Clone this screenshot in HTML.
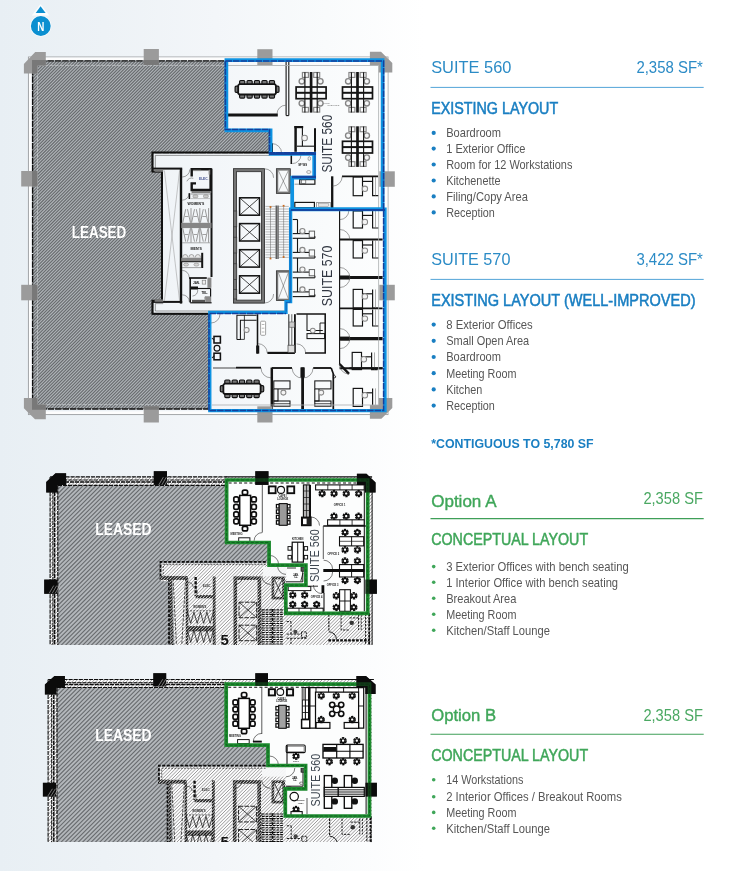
<!DOCTYPE html>
<html><head><meta charset="utf-8"><title>Suite 560 / 570 floor plans</title>
<style>
html,body{margin:0;padding:0;}
body{width:743px;height:871px;overflow:hidden;background:#fff;font-family:"Liberation Sans",sans-serif;}
svg{will-change:transform;position:absolute;left:0;top:0;display:block;font-family:"Liberation Sans",sans-serif;}
</style></head><body>
<svg width="743" height="871" viewBox="0 0 743 871">
<defs>
<linearGradient id="bg" x1="0" y1="0" x2="1" y2="0">
<stop offset="0" stop-color="#e8eff4"/><stop offset="0.14" stop-color="#edf2f6"/><stop offset="0.29" stop-color="#f3f6f9"/><stop offset="0.44" stop-color="#f9fbfc"/><stop offset="0.57" stop-color="#ffffff"/><stop offset="1" stop-color="#ffffff"/>
</linearGradient>
<pattern id="hatchL" width="2.0" height="8" patternUnits="userSpaceOnUse" patternTransform="rotate(42)">
<rect width="2.0" height="8" fill="#a9afb3"/><rect width="1.0" height="8" fill="#64676a"/>
</pattern>
<pattern id="hatchL2" width="2.5" height="8" patternUnits="userSpaceOnUse" patternTransform="rotate(45)">
<rect width="2.5" height="8" fill="#abb0b4"/><rect width="0.95" height="8" fill="#6c6f72"/>
</pattern>
<pattern id="hatchW" width="2.5" height="8" patternUnits="userSpaceOnUse" patternTransform="rotate(42)">
<rect width="2.5" height="8" fill="#f6f7f8"/><rect width="0.7" height="8" fill="#7a7a7a"/>
</pattern>
<pattern id="wallH" width="3.4" height="3.4" patternUnits="userSpaceOnUse"><rect width="3.4" height="3.4" fill="#f1f1f1"/><path d="M-1,1 L1,-1 M-0.5,3.9 L3.9,-0.5 M2.4,4.4 L4.4,2.4" stroke="#050505" stroke-width="1.5"/></pattern>
</defs>
<rect width="743" height="871" fill="url(#bg)"/>

<path d="M40.6,3.9 L49.4,15.6 L31.8,15.6 Z" fill="#fbfdfe" stroke="none" stroke-width="0" />
<circle cx="40.8" cy="26.0" r="10.6" fill="#fbfdfe" stroke="none" stroke-width="0" />
<circle cx="40.8" cy="26.0" r="9.9" fill="#0b8fd0" stroke="none" stroke-width="0" />
<path d="M40.6,6.3 L45.6,12.9 L35.7,12.9 Z" fill="#0b8fd0" stroke="none" stroke-width="0" />
<text x="37.2" y="31.1" font-size="13" fill="#fff" font-weight="bold" textLength="7.1" lengthAdjust="spacingAndGlyphs" >N</text>
<rect x="28.4" y="57.0" width="359.6" height="357.6" fill="none" stroke="#9c9ea0" stroke-width="0.9" />
<rect x="30.3" y="58.8" width="355.8" height="353.9" fill="none" stroke="#fdfdfd" stroke-width="2.6" />
<clipPath id="hc1"><path d="M32.6,60.8 L225.5,60.8 L225.5,129.7 L269.5,129.7 L269.5,152.6 L152.5,152.6 L152.5,171.6 L162.0,171.6 L162.0,300.8 L152.5,300.8 L152.5,313.7 L209.0,313.7 L209.0,409.0 L32.6,409.0 Z"/></clipPath>
<path d="M32.6,60.8 L225.5,60.8 L225.5,129.7 L269.5,129.7 L269.5,152.6 L152.5,152.6 L152.5,171.6 L162.0,171.6 L162.0,300.8 L152.5,300.8 L152.5,313.7 L209.0,313.7 L209.0,409.0 L32.6,409.0 Z" fill="#b0b5b9"/>
<path clip-path="url(#hc1)" d="M-320.75,410.0l350.2,-350.2M-317.60,410.0l350.2,-350.2M-314.45,410.0l350.2,-350.2M-311.30,410.0l350.2,-350.2M-308.15,410.0l350.2,-350.2M-305.00,410.0l350.2,-350.2M-301.85,410.0l350.2,-350.2M-298.70,410.0l350.2,-350.2M-295.55,410.0l350.2,-350.2M-292.40,410.0l350.2,-350.2M-289.25,410.0l350.2,-350.2M-286.10,410.0l350.2,-350.2M-282.95,410.0l350.2,-350.2M-279.80,410.0l350.2,-350.2M-276.65,410.0l350.2,-350.2M-273.50,410.0l350.2,-350.2M-270.35,410.0l350.2,-350.2M-267.20,410.0l350.2,-350.2M-264.05,410.0l350.2,-350.2M-260.90,410.0l350.2,-350.2M-257.75,410.0l350.2,-350.2M-254.60,410.0l350.2,-350.2M-251.45,410.0l350.2,-350.2M-248.30,410.0l350.2,-350.2M-245.15,410.0l350.2,-350.2M-242.00,410.0l350.2,-350.2M-238.85,410.0l350.2,-350.2M-235.70,410.0l350.2,-350.2M-232.55,410.0l350.2,-350.2M-229.40,410.0l350.2,-350.2M-226.25,410.0l350.2,-350.2M-223.10,410.0l350.2,-350.2M-219.95,410.0l350.2,-350.2M-216.80,410.0l350.2,-350.2M-213.65,410.0l350.2,-350.2M-210.50,410.0l350.2,-350.2M-207.35,410.0l350.2,-350.2M-204.20,410.0l350.2,-350.2M-201.05,410.0l350.2,-350.2M-197.90,410.0l350.2,-350.2M-194.75,410.0l350.2,-350.2M-191.60,410.0l350.2,-350.2M-188.45,410.0l350.2,-350.2M-185.30,410.0l350.2,-350.2M-182.15,410.0l350.2,-350.2M-179.00,410.0l350.2,-350.2M-175.85,410.0l350.2,-350.2M-172.70,410.0l350.2,-350.2M-169.55,410.0l350.2,-350.2M-166.40,410.0l350.2,-350.2M-163.25,410.0l350.2,-350.2M-160.10,410.0l350.2,-350.2M-156.95,410.0l350.2,-350.2M-153.80,410.0l350.2,-350.2M-150.65,410.0l350.2,-350.2M-147.50,410.0l350.2,-350.2M-144.35,410.0l350.2,-350.2M-141.20,410.0l350.2,-350.2M-138.05,410.0l350.2,-350.2M-134.90,410.0l350.2,-350.2M-131.75,410.0l350.2,-350.2M-128.60,410.0l350.2,-350.2M-125.45,410.0l350.2,-350.2M-122.30,410.0l350.2,-350.2M-119.15,410.0l350.2,-350.2M-116.00,410.0l350.2,-350.2M-112.85,410.0l350.2,-350.2M-109.70,410.0l350.2,-350.2M-106.55,410.0l350.2,-350.2M-103.40,410.0l350.2,-350.2M-100.25,410.0l350.2,-350.2M-97.10,410.0l350.2,-350.2M-93.95,410.0l350.2,-350.2M-90.80,410.0l350.2,-350.2M-87.65,410.0l350.2,-350.2M-84.50,410.0l350.2,-350.2M-81.35,410.0l350.2,-350.2M-78.20,410.0l350.2,-350.2M-75.05,410.0l350.2,-350.2M-71.90,410.0l350.2,-350.2M-68.75,410.0l350.2,-350.2M-65.60,410.0l350.2,-350.2M-62.45,410.0l350.2,-350.2M-59.30,410.0l350.2,-350.2M-56.15,410.0l350.2,-350.2M-53.00,410.0l350.2,-350.2M-49.85,410.0l350.2,-350.2M-46.70,410.0l350.2,-350.2M-43.55,410.0l350.2,-350.2M-40.40,410.0l350.2,-350.2M-37.25,410.0l350.2,-350.2M-34.10,410.0l350.2,-350.2M-30.95,410.0l350.2,-350.2M-27.80,410.0l350.2,-350.2M-24.65,410.0l350.2,-350.2M-21.50,410.0l350.2,-350.2M-18.35,410.0l350.2,-350.2M-15.20,410.0l350.2,-350.2M-12.05,410.0l350.2,-350.2M-8.90,410.0l350.2,-350.2M-5.75,410.0l350.2,-350.2M-2.60,410.0l350.2,-350.2M0.55,410.0l350.2,-350.2M3.70,410.0l350.2,-350.2M6.85,410.0l350.2,-350.2M10.00,410.0l350.2,-350.2M13.15,410.0l350.2,-350.2M16.30,410.0l350.2,-350.2M19.45,410.0l350.2,-350.2M22.60,410.0l350.2,-350.2M25.75,410.0l350.2,-350.2M28.90,410.0l350.2,-350.2M32.05,410.0l350.2,-350.2M35.20,410.0l350.2,-350.2M38.35,410.0l350.2,-350.2M41.50,410.0l350.2,-350.2M44.65,410.0l350.2,-350.2M47.80,410.0l350.2,-350.2M50.95,410.0l350.2,-350.2M54.10,410.0l350.2,-350.2M57.25,410.0l350.2,-350.2M60.40,410.0l350.2,-350.2M63.55,410.0l350.2,-350.2M66.70,410.0l350.2,-350.2M69.85,410.0l350.2,-350.2M73.00,410.0l350.2,-350.2M76.15,410.0l350.2,-350.2M79.30,410.0l350.2,-350.2M82.45,410.0l350.2,-350.2M85.60,410.0l350.2,-350.2M88.75,410.0l350.2,-350.2M91.90,410.0l350.2,-350.2M95.05,410.0l350.2,-350.2M98.20,410.0l350.2,-350.2M101.35,410.0l350.2,-350.2M104.50,410.0l350.2,-350.2M107.65,410.0l350.2,-350.2M110.80,410.0l350.2,-350.2M113.95,410.0l350.2,-350.2M117.10,410.0l350.2,-350.2M120.25,410.0l350.2,-350.2M123.40,410.0l350.2,-350.2M126.55,410.0l350.2,-350.2M129.70,410.0l350.2,-350.2M132.85,410.0l350.2,-350.2M136.00,410.0l350.2,-350.2M139.15,410.0l350.2,-350.2M142.30,410.0l350.2,-350.2M145.45,410.0l350.2,-350.2M148.60,410.0l350.2,-350.2M151.75,410.0l350.2,-350.2M154.90,410.0l350.2,-350.2M158.05,410.0l350.2,-350.2M161.20,410.0l350.2,-350.2M164.35,410.0l350.2,-350.2M167.50,410.0l350.2,-350.2M170.65,410.0l350.2,-350.2M173.80,410.0l350.2,-350.2M176.95,410.0l350.2,-350.2M180.10,410.0l350.2,-350.2M183.25,410.0l350.2,-350.2M186.40,410.0l350.2,-350.2M189.55,410.0l350.2,-350.2M192.70,410.0l350.2,-350.2M195.85,410.0l350.2,-350.2M199.00,410.0l350.2,-350.2M202.15,410.0l350.2,-350.2M205.30,410.0l350.2,-350.2M208.45,410.0l350.2,-350.2M211.60,410.0l350.2,-350.2M214.75,410.0l350.2,-350.2M217.90,410.0l350.2,-350.2M221.05,410.0l350.2,-350.2M224.20,410.0l350.2,-350.2M227.35,410.0l350.2,-350.2M230.50,410.0l350.2,-350.2M233.65,410.0l350.2,-350.2M236.80,410.0l350.2,-350.2M239.95,410.0l350.2,-350.2M243.10,410.0l350.2,-350.2M246.25,410.0l350.2,-350.2M249.40,410.0l350.2,-350.2M252.55,410.0l350.2,-350.2M255.70,410.0l350.2,-350.2M258.85,410.0l350.2,-350.2M262.00,410.0l350.2,-350.2M265.15,410.0l350.2,-350.2M268.30,410.0l350.2,-350.2M271.45,410.0l350.2,-350.2" stroke="#686b6e" stroke-width="1.12" fill="none"/>
<path d="M32.6,60.8 L225.5,60.8 L225.5,129.7 L269.5,129.7 L269.5,152.6 L152.5,152.6 L152.5,171.6 L162.0,171.6 L162.0,300.8 L152.5,300.8 L152.5,313.7 L209.0,313.7 L209.0,409.0 L32.6,409.0 Z" fill="none" stroke="#0f0f0f" stroke-width="1.35" stroke-dasharray="6.5 0.9"/>
<path d="M225.0,65.4 L37.5,65.4 L37.5,404.6 L208.6,404.6" fill="none" stroke="#c9cdd0" stroke-width="0.7" stroke-dasharray="4 1.2"/>
<text x="71.8" y="237.7" font-size="15.6" fill="#fff" font-weight="bold" textLength="54.5" lengthAdjust="spacingAndGlyphs" >LEASED</text>
<path d="M269.5,152.6 L152.5,152.6 L152.5,171.6 L162.0,171.6 L162.0,300.8 L152.5,300.8 L152.5,313.7 L209.0,313.7" fill="none" stroke="#111" stroke-width="2.015" />
<path d="M269.5,155.4 L155.3,155.4 L155.3,168.8 L163.2,168.8" fill="none" stroke="#555" stroke-width="0.6" />
<path d="M163.2,303.6 L155.3,303.6 L155.3,311.0 L286.0,311.0" fill="none" stroke="#555" stroke-width="0.6" />
<line x1="181.0" y1="168.6" x2="181.0" y2="303.6" stroke="#141414" stroke-width="2.4025000000000003" />
<line x1="152.5" y1="168.6" x2="182.2" y2="168.6" stroke="#141414" stroke-width="2.015" />
<line x1="152.5" y1="301.9" x2="182.2" y2="301.9" stroke="#141414" stroke-width="2.015" />
<rect x="154.6" y="169.4" width="8.6" height="2.4" fill="#777" stroke="none" stroke-width="0" />
<rect x="154.6" y="299.4" width="8.6" height="2.4" fill="#777" stroke="none" stroke-width="0" />
<line x1="164.4" y1="170.5" x2="179.6" y2="301.0" stroke="#9a9a9a" stroke-width="0.55" />
<line x1="179.6" y1="170.5" x2="164.4" y2="301.0" stroke="#9a9a9a" stroke-width="0.55" />
<line x1="211.5" y1="168.6" x2="211.5" y2="277.0" stroke="#141414" stroke-width="2.015" />
<rect x="207.4" y="277.6" width="4.0" height="10.2" fill="#8a8a8a" stroke="none" stroke-width="0" />
<path d="M191.7,176.4 L191.7,169.2 L210.6,169.2 L210.6,190.0 L191.7,190.0 L191.7,183.4 L196.0,183.4" fill="none" stroke="#141414" stroke-width="2.4025000000000003" />
<rect x="193.2" y="169.8" width="8.0" height="1.3" fill="#8a8a8a" stroke="none" stroke-width="0" />
<rect x="208.6" y="169.8" width="1.6" height="4.8" fill="#8a8a8a" stroke="none" stroke-width="0" />
<rect x="191.6" y="191.0" width="19.6" height="2.0" fill="#7d7d7d" stroke="none" stroke-width="0" />
<text x="199.0" y="180.3" font-size="3.2" fill="#3b4a8a" font-weight="bold" >ELEC.</text>
<path d="M189.8,169.4 A7.6,7.6 0 0 1 182.2,177.0" fill="none" stroke="#555" stroke-width="0.55" />
<path d="M186.9,181.3 A5.0,5.0 0 0 1 193.3,178.3" fill="none" stroke="#555" stroke-width="0.55" />
<path d="M189.2,193.2 A7.0,7.0 0 0 1 182.2,200.2" fill="none" stroke="#555" stroke-width="0.55" />
<line x1="189.4" y1="193.2" x2="189.4" y2="199.0" stroke="#141414" stroke-width="1.55" />
<rect x="193.0" y="194.9" width="4.8" height="2.8" fill="#c9c9c9" stroke="#8a8a8a" stroke-width="0.6" rx="1"/>
<rect x="203.5" y="194.9" width="4.8" height="2.8" fill="#c9c9c9" stroke="#8a8a8a" stroke-width="0.6" rx="1"/>
<line x1="190.6" y1="194.0" x2="211.0" y2="194.0" stroke="#555" stroke-width="0.6" />
<line x1="190.6" y1="198.6" x2="211.0" y2="198.6" stroke="#888" stroke-width="0.5" />
<text x="187.6" y="204.7" font-size="3.1" fill="#111" font-weight="bold" textLength="16.6" lengthAdjust="spacingAndGlyphs" >WOMEN'S</text>
<line x1="191.0" y1="208.1" x2="191.0" y2="222.8" stroke="#8c8c8c" stroke-width="0.9" />
<line x1="199.8" y1="208.1" x2="199.8" y2="222.8" stroke="#8c8c8c" stroke-width="0.9" />
<line x1="208.6" y1="208.1" x2="208.6" y2="222.8" stroke="#8c8c8c" stroke-width="0.9" />
<line x1="182.8" y1="222.6" x2="185.7" y2="209.2" stroke="#8c8c8c" stroke-width="0.9" />
<line x1="190.4" y1="222.6" x2="187.5" y2="209.2" stroke="#8c8c8c" stroke-width="0.9" />
<line x1="184.8" y1="216.5" x2="188.4" y2="216.5" stroke="#8c8c8c" stroke-width="0.8" />
<line x1="191.6" y1="222.6" x2="194.5" y2="209.2" stroke="#8c8c8c" stroke-width="0.9" />
<line x1="199.2" y1="222.6" x2="196.3" y2="209.2" stroke="#8c8c8c" stroke-width="0.9" />
<line x1="193.6" y1="216.5" x2="197.2" y2="216.5" stroke="#8c8c8c" stroke-width="0.8" />
<line x1="200.4" y1="222.6" x2="203.3" y2="209.2" stroke="#8c8c8c" stroke-width="0.9" />
<line x1="208.0" y1="222.6" x2="205.1" y2="209.2" stroke="#8c8c8c" stroke-width="0.9" />
<line x1="202.4" y1="216.5" x2="206.0" y2="216.5" stroke="#8c8c8c" stroke-width="0.8" />
<rect x="181.3" y="222.8" width="30.2" height="5.3" fill="#868686" stroke="none" stroke-width="0" />
<line x1="191.0" y1="228.1" x2="191.0" y2="242.6" stroke="#8c8c8c" stroke-width="0.9" />
<line x1="199.8" y1="228.1" x2="199.8" y2="242.6" stroke="#8c8c8c" stroke-width="0.9" />
<line x1="208.6" y1="228.1" x2="208.6" y2="242.6" stroke="#8c8c8c" stroke-width="0.9" />
<line x1="182.8" y1="228.3" x2="185.7" y2="241.6" stroke="#8c8c8c" stroke-width="0.9" />
<line x1="190.4" y1="228.3" x2="187.5" y2="241.6" stroke="#8c8c8c" stroke-width="0.9" />
<line x1="184.8" y1="234.5" x2="188.4" y2="234.5" stroke="#8c8c8c" stroke-width="0.8" />
<line x1="191.6" y1="228.3" x2="194.5" y2="241.6" stroke="#8c8c8c" stroke-width="0.9" />
<line x1="199.2" y1="228.3" x2="196.3" y2="241.6" stroke="#8c8c8c" stroke-width="0.9" />
<line x1="193.6" y1="234.5" x2="197.2" y2="234.5" stroke="#8c8c8c" stroke-width="0.8" />
<line x1="200.4" y1="228.3" x2="203.3" y2="241.6" stroke="#8c8c8c" stroke-width="0.9" />
<line x1="208.0" y1="228.3" x2="205.1" y2="241.6" stroke="#8c8c8c" stroke-width="0.9" />
<line x1="202.4" y1="234.5" x2="206.0" y2="234.5" stroke="#8c8c8c" stroke-width="0.8" />
<line x1="182.0" y1="242.8" x2="211.0" y2="242.8" stroke="#8c8c8c" stroke-width="0.7" />
<text x="190.5" y="250.0" font-size="3.1" fill="#111" font-weight="bold" textLength="11.3" lengthAdjust="spacingAndGlyphs" >MEN'S</text>
<path d="M182.6,257.4 a2.6,2.9 0 0 1 5.2,0" fill="#e9e9e9" stroke="#8a8a8a" stroke-width="0.7" />
<path d="M188.9,257.4 a2.6,2.9 0 0 1 5.2,0" fill="#e9e9e9" stroke="#8a8a8a" stroke-width="0.7" />
<path d="M195.3,257.4 a2.6,2.9 0 0 1 5.2,0" fill="#e9e9e9" stroke="#8a8a8a" stroke-width="0.7" />
<rect x="181.3" y="257.7" width="20.5" height="3.9" fill="#868686" stroke="none" stroke-width="0" />
<line x1="181.3" y1="261.7" x2="202.0" y2="261.7" stroke="#141414" stroke-width="1.04" />
<line x1="202.2" y1="252.8" x2="202.2" y2="268.0" stroke="#141414" stroke-width="2.015" />
<ellipse cx="186.1" cy="264.6" rx="2.5" ry="1.5" fill="#d6d6d6" stroke="#8a8a8a" stroke-width="0.6"/>
<ellipse cx="196.4" cy="264.6" rx="2.5" ry="1.5" fill="#d6d6d6" stroke="#8a8a8a" stroke-width="0.6"/>
<line x1="182.0" y1="267.6" x2="201.4" y2="267.6" stroke="#666" stroke-width="0.6" />
<path d="M182.2,270.4 A7.0,7.0 0 0 1 189.2,277.4" fill="none" stroke="#555" stroke-width="0.55" />
<path d="M182.2,294.8 A7.2,7.2 0 0 1 189.4,302.0" fill="none" stroke="#555" stroke-width="0.55" />
<line x1="189.0" y1="278.0" x2="206.8" y2="278.0" stroke="#141414" stroke-width="1.7050000000000003" />
<line x1="190.2" y1="278.0" x2="190.2" y2="302.6" stroke="#141414" stroke-width="1.55" />
<rect x="202.2" y="280.2" width="3.5" height="3.9" fill="#eee" stroke="#777" stroke-width="0.6" />
<rect x="191.0" y="286.5" width="7.0" height="3.0" fill="#111" stroke="none" stroke-width="0" />
<line x1="197.9" y1="288.5" x2="210.6" y2="288.5" stroke="#141414" stroke-width="1.1700000000000002" />
<text x="193.0" y="284.4" font-size="3.0" fill="#111" font-weight="bold" >JAN.</text>
<text x="201.4" y="293.6" font-size="3.0" fill="#111" font-weight="bold" >TEL.</text>
<line x1="210.6" y1="288.5" x2="210.6" y2="296.8" stroke="#141414" stroke-width="1.1700000000000002" />
<path d="M210.6,296.8 L205.0,296.8 L205.0,299.6" fill="none" stroke="#555" stroke-width="0.7" />
<rect x="205.2" y="297.0" width="6.0" height="5.6" fill="#8a8a8a" stroke="none" stroke-width="0" />
<rect x="192.0" y="299.8" width="13.0" height="2.8" fill="#555" stroke="none" stroke-width="0" />
<line x1="190.2" y1="302.8" x2="211.6" y2="302.8" stroke="#141414" stroke-width="1.1700000000000002" />
<path d="M197.8,289.8 A6.4,6.4 0 0 1 192.5,296.1" fill="none" stroke="#555" stroke-width="0.55" />
<rect x="234.9" y="170.1" width="28.1" height="131.6" fill="none" stroke="#747474" stroke-width="3.0" />
<rect x="233.5" y="168.7" width="30.9" height="134.4" fill="none" stroke="#222" stroke-width="0.78" />
<rect x="236.5" y="171.7" width="24.9" height="128.4" fill="none" stroke="#222" stroke-width="0.78" />
<rect x="239.6" y="197.8" width="19.9" height="17.4" fill="none" stroke="#141414" stroke-width="1.55" />
<line x1="239.6" y1="197.8" x2="259.5" y2="215.2" stroke="#141414" stroke-width="0.78" />
<line x1="259.5" y1="197.8" x2="239.6" y2="215.2" stroke="#141414" stroke-width="0.78" />
<rect x="239.6" y="223.6" width="19.9" height="17.4" fill="none" stroke="#141414" stroke-width="1.55" />
<line x1="239.6" y1="223.6" x2="259.5" y2="241.0" stroke="#141414" stroke-width="0.78" />
<line x1="259.5" y1="223.6" x2="239.6" y2="241.0" stroke="#141414" stroke-width="0.78" />
<rect x="239.6" y="249.7" width="19.9" height="17.4" fill="none" stroke="#141414" stroke-width="1.55" />
<line x1="239.6" y1="249.7" x2="259.5" y2="267.1" stroke="#141414" stroke-width="0.78" />
<line x1="259.5" y1="249.7" x2="239.6" y2="267.1" stroke="#141414" stroke-width="0.78" />
<rect x="239.6" y="275.8" width="19.9" height="17.4" fill="none" stroke="#141414" stroke-width="1.55" />
<line x1="239.6" y1="275.8" x2="259.5" y2="293.2" stroke="#141414" stroke-width="0.78" />
<line x1="259.5" y1="275.8" x2="239.6" y2="293.2" stroke="#141414" stroke-width="0.78" />
<rect x="233.6" y="211.0" width="3.2" height="15.8" fill="#777" stroke="#333" stroke-width="0.65" />
<rect x="233.6" y="237.2" width="3.2" height="15.8" fill="#777" stroke="#333" stroke-width="0.65" />
<rect x="233.6" y="263.8" width="3.2" height="15.8" fill="#777" stroke="#333" stroke-width="0.65" />
<rect x="233.6" y="289.5" width="3.2" height="9.5" fill="#777" stroke="#333" stroke-width="0.65" />
<rect x="277.2" y="169.6" width="12.2" height="23.0" fill="none" stroke="#747474" stroke-width="2.0" />
<rect x="276.3" y="168.7" width="14.0" height="24.8" fill="none" stroke="#222" stroke-width="0.65" />
<line x1="278.5" y1="170.9" x2="288.2" y2="191.3" stroke="#555" stroke-width="0.5" />
<line x1="288.2" y1="170.9" x2="278.5" y2="191.3" stroke="#555" stroke-width="0.5" />
<rect x="277.2" y="271.7" width="12.2" height="28.0" fill="none" stroke="#747474" stroke-width="2.0" />
<rect x="276.3" y="270.8" width="14.0" height="29.8" fill="none" stroke="#222" stroke-width="0.65" />
<line x1="278.5" y1="273.0" x2="288.2" y2="298.4" stroke="#555" stroke-width="0.5" />
<line x1="288.2" y1="273.0" x2="278.5" y2="298.4" stroke="#555" stroke-width="0.5" />
<line x1="265.4" y1="206.4" x2="275.6" y2="206.4" stroke="#8a8a8a" stroke-width="0.55" />
<line x1="278.6" y1="206.4" x2="288.8" y2="206.4" stroke="#8a8a8a" stroke-width="0.55" />
<line x1="265.4" y1="209.0" x2="275.6" y2="209.0" stroke="#8a8a8a" stroke-width="0.55" />
<line x1="278.6" y1="209.0" x2="288.8" y2="209.0" stroke="#8a8a8a" stroke-width="0.55" />
<line x1="265.4" y1="211.5" x2="275.6" y2="211.5" stroke="#8a8a8a" stroke-width="0.55" />
<line x1="278.6" y1="211.5" x2="288.8" y2="211.5" stroke="#8a8a8a" stroke-width="0.55" />
<line x1="265.4" y1="214.1" x2="275.6" y2="214.1" stroke="#8a8a8a" stroke-width="0.55" />
<line x1="278.6" y1="214.1" x2="288.8" y2="214.1" stroke="#8a8a8a" stroke-width="0.55" />
<line x1="265.4" y1="216.6" x2="275.6" y2="216.6" stroke="#8a8a8a" stroke-width="0.55" />
<line x1="278.6" y1="216.6" x2="288.8" y2="216.6" stroke="#8a8a8a" stroke-width="0.55" />
<line x1="265.4" y1="219.2" x2="275.6" y2="219.2" stroke="#8a8a8a" stroke-width="0.55" />
<line x1="278.6" y1="219.2" x2="288.8" y2="219.2" stroke="#8a8a8a" stroke-width="0.55" />
<line x1="265.4" y1="221.7" x2="275.6" y2="221.7" stroke="#8a8a8a" stroke-width="0.55" />
<line x1="278.6" y1="221.7" x2="288.8" y2="221.7" stroke="#8a8a8a" stroke-width="0.55" />
<line x1="265.4" y1="224.2" x2="275.6" y2="224.2" stroke="#8a8a8a" stroke-width="0.55" />
<line x1="278.6" y1="224.2" x2="288.8" y2="224.2" stroke="#8a8a8a" stroke-width="0.55" />
<line x1="265.4" y1="226.8" x2="275.6" y2="226.8" stroke="#8a8a8a" stroke-width="0.55" />
<line x1="278.6" y1="226.8" x2="288.8" y2="226.8" stroke="#8a8a8a" stroke-width="0.55" />
<line x1="265.4" y1="229.3" x2="275.6" y2="229.3" stroke="#8a8a8a" stroke-width="0.55" />
<line x1="278.6" y1="229.3" x2="288.8" y2="229.3" stroke="#8a8a8a" stroke-width="0.55" />
<line x1="265.4" y1="231.9" x2="275.6" y2="231.9" stroke="#8a8a8a" stroke-width="0.55" />
<line x1="278.6" y1="231.9" x2="288.8" y2="231.9" stroke="#8a8a8a" stroke-width="0.55" />
<line x1="265.4" y1="234.4" x2="275.6" y2="234.4" stroke="#8a8a8a" stroke-width="0.55" />
<line x1="278.6" y1="234.4" x2="288.8" y2="234.4" stroke="#8a8a8a" stroke-width="0.55" />
<line x1="265.4" y1="237.0" x2="275.6" y2="237.0" stroke="#8a8a8a" stroke-width="0.55" />
<line x1="278.6" y1="237.0" x2="288.8" y2="237.0" stroke="#8a8a8a" stroke-width="0.55" />
<line x1="265.4" y1="239.6" x2="275.6" y2="239.6" stroke="#8a8a8a" stroke-width="0.55" />
<line x1="278.6" y1="239.6" x2="288.8" y2="239.6" stroke="#8a8a8a" stroke-width="0.55" />
<line x1="265.4" y1="242.1" x2="275.6" y2="242.1" stroke="#8a8a8a" stroke-width="0.55" />
<line x1="278.6" y1="242.1" x2="288.8" y2="242.1" stroke="#8a8a8a" stroke-width="0.55" />
<line x1="265.4" y1="244.7" x2="275.6" y2="244.7" stroke="#8a8a8a" stroke-width="0.55" />
<line x1="278.6" y1="244.7" x2="288.8" y2="244.7" stroke="#8a8a8a" stroke-width="0.55" />
<line x1="265.4" y1="247.2" x2="275.6" y2="247.2" stroke="#8a8a8a" stroke-width="0.55" />
<line x1="278.6" y1="247.2" x2="288.8" y2="247.2" stroke="#8a8a8a" stroke-width="0.55" />
<line x1="265.4" y1="249.8" x2="275.6" y2="249.8" stroke="#8a8a8a" stroke-width="0.55" />
<line x1="278.6" y1="249.8" x2="288.8" y2="249.8" stroke="#8a8a8a" stroke-width="0.55" />
<line x1="265.4" y1="252.3" x2="275.6" y2="252.3" stroke="#8a8a8a" stroke-width="0.55" />
<line x1="278.6" y1="252.3" x2="288.8" y2="252.3" stroke="#8a8a8a" stroke-width="0.55" />
<line x1="265.4" y1="254.8" x2="275.6" y2="254.8" stroke="#8a8a8a" stroke-width="0.55" />
<line x1="278.6" y1="254.8" x2="288.8" y2="254.8" stroke="#8a8a8a" stroke-width="0.55" />
<line x1="265.4" y1="257.4" x2="275.6" y2="257.4" stroke="#8a8a8a" stroke-width="0.55" />
<line x1="278.6" y1="257.4" x2="288.8" y2="257.4" stroke="#8a8a8a" stroke-width="0.55" />
<line x1="276.2" y1="205.5" x2="276.2" y2="259.0" stroke="#222" stroke-width="1.04" />
<line x1="278.0" y1="205.5" x2="278.0" y2="259.0" stroke="#222" stroke-width="1.04" />
<line x1="270.5" y1="207.0" x2="270.5" y2="258.0" stroke="#666" stroke-width="0.5" />
<line x1="283.6" y1="207.0" x2="283.6" y2="258.0" stroke="#666" stroke-width="0.5" />
<rect x="269.6" y="206.1" width="1.8" height="1.8" fill="#c86a1e" stroke="none" stroke-width="0" />
<rect x="282.7" y="204.9" width="1.8" height="1.8" fill="#c86a1e" stroke="none" stroke-width="0" />
<rect x="269.6" y="257.6" width="1.8" height="1.8" fill="#c86a1e" stroke="none" stroke-width="0" />
<rect x="282.7" y="256.1" width="1.8" height="1.8" fill="#c86a1e" stroke="none" stroke-width="0" />
<path d="M264.6,168.8 A9.0,9.0 0 0 1 273.6,177.8" fill="none" stroke="#555" stroke-width="0.55" />
<path d="M273.6,294.0 A9.0,9.0 0 0 1 264.6,303.0" fill="none" stroke="#555" stroke-width="0.55" />
<line x1="286.1" y1="62.0" x2="286.1" y2="115.6" stroke="#141414" stroke-width="1.105" />
<line x1="288.8" y1="62.0" x2="288.8" y2="115.6" stroke="#141414" stroke-width="1.105" />
<line x1="286.1" y1="115.6" x2="288.8" y2="115.6" stroke="#141414" stroke-width="1.105" />
<line x1="227.2" y1="115.0" x2="277.8" y2="115.0" stroke="#141414" stroke-width="2.79" />
<path d="M277.0,114.0 A8.8,8.8 0 0 1 285.8,105.2" fill="none" stroke="#555" stroke-width="0.55" />
<rect x="239.6" y="80.5" width="5.2" height="4.0" fill="#777" stroke="#111" stroke-width="1.1700000000000002" rx="1.1"/>
<rect x="239.6" y="94.1" width="5.2" height="4.0" fill="#777" stroke="#111" stroke-width="1.1700000000000002" rx="1.1"/>
<rect x="247.0" y="80.5" width="5.2" height="4.0" fill="#777" stroke="#111" stroke-width="1.1700000000000002" rx="1.1"/>
<rect x="247.0" y="94.1" width="5.2" height="4.0" fill="#777" stroke="#111" stroke-width="1.1700000000000002" rx="1.1"/>
<rect x="254.4" y="80.5" width="5.2" height="4.0" fill="#777" stroke="#111" stroke-width="1.1700000000000002" rx="1.1"/>
<rect x="254.4" y="94.1" width="5.2" height="4.0" fill="#777" stroke="#111" stroke-width="1.1700000000000002" rx="1.1"/>
<rect x="261.9" y="80.5" width="5.2" height="4.0" fill="#777" stroke="#111" stroke-width="1.1700000000000002" rx="1.1"/>
<rect x="261.9" y="94.1" width="5.2" height="4.0" fill="#777" stroke="#111" stroke-width="1.1700000000000002" rx="1.1"/>
<rect x="269.3" y="80.5" width="5.2" height="4.0" fill="#777" stroke="#111" stroke-width="1.1700000000000002" rx="1.1"/>
<rect x="269.3" y="94.1" width="5.2" height="4.0" fill="#777" stroke="#111" stroke-width="1.1700000000000002" rx="1.1"/>
<rect x="235.1" y="86.2" width="3.5" height="6.2" fill="#777" stroke="#111" stroke-width="1.1700000000000002" rx="1.1"/>
<rect x="275.5" y="86.2" width="3.5" height="6.2" fill="#777" stroke="#111" stroke-width="1.1700000000000002" rx="1.1"/>
<path d="M239.4,84.1 L274.7,84.1 L275.9,85.3 L275.9,93.3 L274.7,94.5 L239.4,94.5 L238.2,93.3 L238.2,85.3 Z" fill="#f8fafb" stroke="#141414" stroke-width="1.7825" />
<rect x="304.9" y="72.3" width="12.2" height="40.2" fill="#f9fafb" stroke="none" stroke-width="0" />
<rect x="302.4" y="72.5" width="6.0" height="4.9" fill="#fafbfc" stroke="#858585" stroke-width="1.15" />
<rect x="302.4" y="107.4" width="6.0" height="4.7" fill="#fafbfc" stroke="#858585" stroke-width="1.15" />
<circle cx="301.8" cy="81.3" r="2.7" fill="#f6f7f8" stroke="#858585" stroke-width="1.35" />
<circle cx="301.8" cy="103.3" r="2.7" fill="#f6f7f8" stroke="#858585" stroke-width="1.35" />
<rect x="313.7" y="72.5" width="6.0" height="4.9" fill="#fafbfc" stroke="#858585" stroke-width="1.15" />
<rect x="313.7" y="107.4" width="6.0" height="4.7" fill="#fafbfc" stroke="#858585" stroke-width="1.15" />
<circle cx="320.4" cy="81.3" r="2.7" fill="#f6f7f8" stroke="#858585" stroke-width="1.35" />
<circle cx="320.4" cy="103.3" r="2.7" fill="#f6f7f8" stroke="#858585" stroke-width="1.35" />
<line x1="304.9" y1="72.3" x2="304.9" y2="112.5" stroke="#141414" stroke-width="1.15" />
<line x1="317.2" y1="72.3" x2="317.2" y2="112.5" stroke="#141414" stroke-width="1.15" />
<rect x="296.1" y="87.0" width="30.0" height="11.7" fill="none" stroke="#141414" stroke-width="1.7" />
<line x1="296.1" y1="92.8" x2="326.1" y2="92.8" stroke="#141414" stroke-width="2.0" />
<line x1="311.1" y1="72.0" x2="311.1" y2="112.6" stroke="#141414" stroke-width="2.7" />
<rect x="351.4" y="72.3" width="12.2" height="40.2" fill="#f9fafb" stroke="none" stroke-width="0" />
<rect x="348.9" y="72.5" width="6.0" height="4.9" fill="#fafbfc" stroke="#858585" stroke-width="1.15" />
<rect x="348.9" y="107.4" width="6.0" height="4.7" fill="#fafbfc" stroke="#858585" stroke-width="1.15" />
<circle cx="348.2" cy="81.3" r="2.7" fill="#f6f7f8" stroke="#858585" stroke-width="1.35" />
<circle cx="348.2" cy="103.3" r="2.7" fill="#f6f7f8" stroke="#858585" stroke-width="1.35" />
<rect x="360.1" y="72.5" width="6.0" height="4.9" fill="#fafbfc" stroke="#858585" stroke-width="1.15" />
<rect x="360.1" y="107.4" width="6.0" height="4.7" fill="#fafbfc" stroke="#858585" stroke-width="1.15" />
<circle cx="366.8" cy="81.3" r="2.7" fill="#f6f7f8" stroke="#858585" stroke-width="1.35" />
<circle cx="366.8" cy="103.3" r="2.7" fill="#f6f7f8" stroke="#858585" stroke-width="1.35" />
<line x1="351.4" y1="72.3" x2="351.4" y2="112.5" stroke="#141414" stroke-width="1.15" />
<line x1="363.6" y1="72.3" x2="363.6" y2="112.5" stroke="#141414" stroke-width="1.15" />
<rect x="342.5" y="87.0" width="30.0" height="11.7" fill="none" stroke="#141414" stroke-width="1.7" />
<line x1="342.5" y1="92.8" x2="372.5" y2="92.8" stroke="#141414" stroke-width="2.0" />
<line x1="357.5" y1="72.0" x2="357.5" y2="112.6" stroke="#141414" stroke-width="2.7" />
<rect x="351.4" y="126.6" width="12.2" height="40.2" fill="#f9fafb" stroke="none" stroke-width="0" />
<rect x="348.9" y="126.8" width="6.0" height="4.9" fill="#fafbfc" stroke="#858585" stroke-width="1.15" />
<rect x="348.9" y="161.7" width="6.0" height="4.7" fill="#fafbfc" stroke="#858585" stroke-width="1.15" />
<circle cx="348.2" cy="135.6" r="2.7" fill="#f6f7f8" stroke="#858585" stroke-width="1.35" />
<circle cx="348.2" cy="157.6" r="2.7" fill="#f6f7f8" stroke="#858585" stroke-width="1.35" />
<rect x="360.1" y="126.8" width="6.0" height="4.9" fill="#fafbfc" stroke="#858585" stroke-width="1.15" />
<rect x="360.1" y="161.7" width="6.0" height="4.7" fill="#fafbfc" stroke="#858585" stroke-width="1.15" />
<circle cx="366.8" cy="135.6" r="2.7" fill="#f6f7f8" stroke="#858585" stroke-width="1.35" />
<circle cx="366.8" cy="157.6" r="2.7" fill="#f6f7f8" stroke="#858585" stroke-width="1.35" />
<line x1="351.4" y1="126.6" x2="351.4" y2="166.8" stroke="#141414" stroke-width="1.15" />
<line x1="363.6" y1="126.6" x2="363.6" y2="166.8" stroke="#141414" stroke-width="1.15" />
<rect x="342.5" y="141.3" width="30.0" height="11.7" fill="none" stroke="#141414" stroke-width="1.7" />
<line x1="342.5" y1="147.1" x2="372.5" y2="147.1" stroke="#141414" stroke-width="2.0" />
<line x1="357.5" y1="126.3" x2="357.5" y2="166.9" stroke="#141414" stroke-width="2.7" />
<text x="326.5" y="103.6" font-size="2.4" fill="#777" text-anchor="middle" >WORK</text>
<text x="333.3" y="106.4" font-size="2.4" fill="#777" text-anchor="middle" >CUBICLES</text>
<text transform="translate(331.7,172.6) rotate(-90)" font-size="15.4" fill="#2f3540" textLength="57.8" lengthAdjust="spacingAndGlyphs">SUITE 560</text>
<line x1="295.6" y1="126.0" x2="295.6" y2="151.8" stroke="#141414" stroke-width="2.4800000000000004" />
<line x1="294.4" y1="127.1" x2="303.2" y2="127.1" stroke="#141414" stroke-width="2.17" />
<line x1="302.4" y1="128.0" x2="302.4" y2="146.2" stroke="#141414" stroke-width="1.105" />
<line x1="297.0" y1="146.2" x2="314.4" y2="146.2" stroke="#141414" stroke-width="1.105" />
<line x1="315.0" y1="128.2" x2="315.0" y2="151.8" stroke="#141414" stroke-width="2.015" />
<circle cx="304.6" cy="138.0" r="2.8" fill="#f4f4f4" stroke="#8a8a8a" stroke-width="1.05" />
<path d="M272.0,143.6 A9.6,9.6 0 0 1 281.6,153.2" fill="none" stroke="#555" stroke-width="0.55" />
<line x1="272.0" y1="143.4" x2="272.0" y2="153.2" stroke="#141414" stroke-width="2.015" />
<rect x="292.4" y="153.8" width="21.6" height="23.6" fill="none" stroke="none" stroke-width="0" />
<text x="298.2" y="166.2" font-size="2.8" fill="#111" font-weight="bold" >SF WS</text>
<ellipse cx="309.3" cy="158.6" rx="1.3" ry="2.0" fill="#eee" stroke="#666" stroke-width="0.5"/>
<ellipse cx="308.8" cy="172.0" rx="2.2" ry="1.5" fill="#eee" stroke="#666" stroke-width="0.5"/>
<path d="M300.9,155.0 A8.6,8.6 0 0 1 292.3,163.6" fill="none" stroke="#555" stroke-width="0.55" />
<line x1="291.3" y1="153.8" x2="291.3" y2="164.0" stroke="#141414" stroke-width="1.55" />
<rect x="299.7" y="179.6" width="15.2" height="4.6" fill="none" stroke="#141414" stroke-width="1.1700000000000002" />
<rect x="301.4" y="179.8" width="4.4" height="3.6" fill="none" stroke="#444" stroke-width="0.6" />
<line x1="294.6" y1="184.2" x2="299.7" y2="184.2" stroke="#555" stroke-width="0.6" />
<rect x="294.8" y="202.4" width="19.6" height="5.2" fill="none" stroke="#141414" stroke-width="1.1700000000000002" />
<rect x="316.6" y="202.4" width="13.7" height="5.2" fill="none" stroke="#888" stroke-width="0.8" />
<rect x="318.4" y="203.6" width="10.0" height="2.8" fill="#e4e4e4" stroke="#888" stroke-width="0.5" />
<line x1="332.2" y1="176.3" x2="332.2" y2="208.0" stroke="#141414" stroke-width="2.325" />
<line x1="342.0" y1="176.4" x2="378.2" y2="176.4" stroke="#141414" stroke-width="1.8599999999999999" />
<path d="M342.2,176.4 A9.8,9.8 0 0 1 332.4,186.2" fill="none" stroke="#555" stroke-width="0.55" />
<rect x="353.2" y="177.0" width="9.3" height="18.7" fill="none" stroke="#141414" stroke-width="1.1700000000000002" />
<line x1="362.5" y1="181.4" x2="372.6" y2="181.4" stroke="#141414" stroke-width="1.1700000000000002" />
<path d="M372.6,177.0 L372.6,195.7 L378.6,195.7" fill="none" stroke="#141414" stroke-width="1.1700000000000002" />
<line x1="375.5" y1="177.0" x2="375.5" y2="195.7" stroke="#777" stroke-width="0.6" />
<circle cx="364.9" cy="188.8" r="2.7" fill="#f4f4f4" stroke="#8a8a8a" stroke-width="1.05" />
<line x1="339.6" y1="210.6" x2="339.6" y2="364.2" stroke="#141414" stroke-width="1.1700000000000002" />
<line x1="339.6" y1="239.5" x2="382.6" y2="239.5" stroke="#141414" stroke-width="1.8599999999999999" />
<line x1="340.5" y1="277.5" x2="382.6" y2="277.5" stroke="#141414" stroke-width="3.1" />
<line x1="339.6" y1="308.4" x2="382.6" y2="308.4" stroke="#141414" stroke-width="1.8599999999999999" />
<line x1="340.5" y1="338.6" x2="382.6" y2="338.6" stroke="#141414" stroke-width="3.1" />
<line x1="339.6" y1="368.2" x2="382.6" y2="368.2" stroke="#141414" stroke-width="1.8599999999999999" />
<line x1="339.4" y1="277.5" x2="350.0" y2="277.5" stroke="#141414" stroke-width="4.03" />
<line x1="339.4" y1="338.6" x2="350.0" y2="338.6" stroke="#141414" stroke-width="4.03" />
<rect x="353.2" y="211.0" width="9.3" height="17.0" fill="none" stroke="#141414" stroke-width="1.1700000000000002" />
<line x1="362.5" y1="215.4" x2="372.6" y2="215.4" stroke="#141414" stroke-width="1.1700000000000002" />
<path d="M372.6,211.0 L372.6,228.0 L378.6,228.0" fill="none" stroke="#141414" stroke-width="1.1700000000000002" />
<line x1="375.5" y1="211.0" x2="375.5" y2="228.0" stroke="#777" stroke-width="0.6" />
<circle cx="364.9" cy="222.0" r="2.7" fill="#f4f4f4" stroke="#8a8a8a" stroke-width="1.05" />
<rect x="353.2" y="240.6" width="9.3" height="17.4" fill="none" stroke="#141414" stroke-width="1.1700000000000002" />
<line x1="362.5" y1="245.0" x2="372.6" y2="245.0" stroke="#141414" stroke-width="1.1700000000000002" />
<path d="M372.6,240.6 L372.6,258.0 L378.6,258.0" fill="none" stroke="#141414" stroke-width="1.1700000000000002" />
<line x1="375.5" y1="240.6" x2="375.5" y2="258.0" stroke="#777" stroke-width="0.6" />
<circle cx="364.9" cy="250.6" r="2.7" fill="#f4f4f4" stroke="#8a8a8a" stroke-width="1.05" />
<rect x="353.2" y="289.4" width="9.3" height="18.6" fill="none" stroke="#141414" stroke-width="1.1700000000000002" />
<line x1="362.5" y1="293.8" x2="372.6" y2="293.8" stroke="#141414" stroke-width="1.1700000000000002" />
<path d="M372.6,289.4 L372.6,308.0 L378.6,308.0" fill="none" stroke="#141414" stroke-width="1.1700000000000002" />
<line x1="375.5" y1="289.4" x2="375.5" y2="308.0" stroke="#777" stroke-width="0.6" />
<circle cx="364.9" cy="296.4" r="2.7" fill="#f4f4f4" stroke="#8a8a8a" stroke-width="1.05" />
<rect x="353.2" y="309.4" width="9.3" height="16.6" fill="none" stroke="#141414" stroke-width="1.1700000000000002" />
<line x1="362.5" y1="313.8" x2="372.6" y2="313.8" stroke="#141414" stroke-width="1.1700000000000002" />
<path d="M372.6,309.4 L372.6,326.0 L378.6,326.0" fill="none" stroke="#141414" stroke-width="1.1700000000000002" />
<line x1="375.5" y1="309.4" x2="375.5" y2="326.0" stroke="#777" stroke-width="0.6" />
<circle cx="364.9" cy="318.6" r="2.7" fill="#f4f4f4" stroke="#8a8a8a" stroke-width="1.05" />
<rect x="352.2" y="352.4" width="9.3" height="17.2" fill="none" stroke="#141414" stroke-width="1.1700000000000002" />
<line x1="361.5" y1="356.8" x2="371.6" y2="356.8" stroke="#141414" stroke-width="1.1700000000000002" />
<path d="M371.6,352.4 L371.6,369.6 L377.6,369.6" fill="none" stroke="#141414" stroke-width="1.1700000000000002" />
<line x1="374.5" y1="352.4" x2="374.5" y2="369.6" stroke="#777" stroke-width="0.6" />
<circle cx="363.9" cy="359.2" r="2.7" fill="#f4f4f4" stroke="#8a8a8a" stroke-width="1.05" />
<rect x="353.2" y="388.4" width="9.3" height="18.0" fill="none" stroke="#141414" stroke-width="1.1700000000000002" />
<line x1="362.5" y1="392.8" x2="372.6" y2="392.8" stroke="#141414" stroke-width="1.1700000000000002" />
<path d="M372.6,388.4 L372.6,406.4 L378.6,406.4" fill="none" stroke="#141414" stroke-width="1.1700000000000002" />
<line x1="375.5" y1="388.4" x2="375.5" y2="406.4" stroke="#777" stroke-width="0.6" />
<circle cx="364.9" cy="395.2" r="2.7" fill="#f4f4f4" stroke="#8a8a8a" stroke-width="1.05" />
<path d="M339.8,229.5 A10.0,10.0 0 0 1 349.8,239.5" fill="none" stroke="#555" stroke-width="0.55" />
<path d="M339.8,267.5 A10.0,10.0 0 0 1 349.8,277.5" fill="none" stroke="#555" stroke-width="0.55" />
<path d="M349.8,277.5 A10.0,10.0 0 0 1 339.8,287.5" fill="none" stroke="#555" stroke-width="0.55" />
<path d="M339.8,328.6 A10.0,10.0 0 0 1 349.8,338.6" fill="none" stroke="#555" stroke-width="0.55" />
<path d="M349.8,338.6 A10.0,10.0 0 0 1 339.8,348.6" fill="none" stroke="#555" stroke-width="0.55" />
<path d="M348.8,210.6 A9.0,9.0 0 0 1 339.8,219.6" fill="none" stroke="#555" stroke-width="0.55" />
<path d="M339.6,364.0 L349.0,373.8" fill="none" stroke="#141414" stroke-width="2.4800000000000004" />
<path d="M349.0,374.0 A9.5,9.5 0 0 1 339.5,364.5" fill="none" stroke="#555" stroke-width="0.55" />
<line x1="349.5" y1="368.2" x2="382.6" y2="368.2" stroke="#141414" stroke-width="1.8599999999999999" />
<line x1="292.7" y1="219.5" x2="297.5" y2="219.5" stroke="#141414" stroke-width="1.105" />
<line x1="297.5" y1="219.5" x2="297.5" y2="233.6" stroke="#141414" stroke-width="1.105" />
<line x1="292.7" y1="233.6" x2="309.2" y2="233.6" stroke="#141414" stroke-width="1.105" />
<rect x="309.2" y="231.1" width="5.4" height="6.2" fill="#f8fafb" stroke="#555" stroke-width="0.9" />
<circle cx="302.4" cy="231.1" r="2.6" fill="#f4f4f4" stroke="#8a8a8a" stroke-width="1.2" />
<line x1="292.7" y1="238.3" x2="314.9" y2="238.3" stroke="#141414" stroke-width="1.105" />
<line x1="314.9" y1="236.3" x2="314.9" y2="238.3" stroke="#141414" stroke-width="1.105" />
<line x1="297.5" y1="238.3" x2="297.5" y2="252.4" stroke="#141414" stroke-width="1.105" />
<line x1="292.7" y1="252.4" x2="309.2" y2="252.4" stroke="#141414" stroke-width="1.105" />
<rect x="309.2" y="249.9" width="5.4" height="6.2" fill="#f8fafb" stroke="#555" stroke-width="0.9" />
<circle cx="302.4" cy="249.9" r="2.6" fill="#f4f4f4" stroke="#8a8a8a" stroke-width="1.2" />
<line x1="292.7" y1="258.0" x2="314.9" y2="258.0" stroke="#141414" stroke-width="1.105" />
<line x1="314.9" y1="256.0" x2="314.9" y2="258.0" stroke="#141414" stroke-width="1.105" />
<line x1="297.5" y1="258.0" x2="297.5" y2="272.1" stroke="#141414" stroke-width="1.105" />
<line x1="292.7" y1="272.1" x2="309.2" y2="272.1" stroke="#141414" stroke-width="1.105" />
<rect x="309.2" y="269.6" width="5.4" height="6.2" fill="#f8fafb" stroke="#555" stroke-width="0.9" />
<circle cx="302.4" cy="269.6" r="2.6" fill="#f4f4f4" stroke="#8a8a8a" stroke-width="1.2" />
<line x1="292.7" y1="277.8" x2="314.9" y2="277.8" stroke="#141414" stroke-width="1.105" />
<line x1="314.9" y1="275.8" x2="314.9" y2="277.8" stroke="#141414" stroke-width="1.105" />
<line x1="297.5" y1="277.8" x2="297.5" y2="291.9" stroke="#141414" stroke-width="1.105" />
<line x1="292.7" y1="291.9" x2="309.2" y2="291.9" stroke="#141414" stroke-width="1.105" />
<rect x="309.2" y="289.4" width="5.4" height="6.2" fill="#f8fafb" stroke="#555" stroke-width="0.9" />
<circle cx="302.4" cy="289.4" r="2.6" fill="#f4f4f4" stroke="#8a8a8a" stroke-width="1.2" />
<line x1="292.7" y1="296.6" x2="314.9" y2="296.6" stroke="#141414" stroke-width="1.105" />
<line x1="314.9" y1="294.6" x2="314.9" y2="296.6" stroke="#141414" stroke-width="1.105" />
<text transform="translate(331.7,306.2) rotate(-90)" font-size="15.4" fill="#2f3540" textLength="60.6" lengthAdjust="spacingAndGlyphs">SUITE 570</text>
<path d="M220.0,314.0 A9.0,9.0 0 0 1 211.0,323.0" fill="none" stroke="#555" stroke-width="0.55" />
<path d="M236.9,339.4 L236.9,315.2 L256.6,315.2" fill="none" stroke="#141414" stroke-width="1.04" />
<path d="M236.9,339.4 L240.4,339.4 L240.4,320.2 L256.6,320.2" fill="none" stroke="#141414" stroke-width="1.04" />
<line x1="244.4" y1="315.2" x2="244.4" y2="339.4" stroke="#141414" stroke-width="0.78" />
<line x1="240.4" y1="339.4" x2="244.4" y2="339.4" stroke="#141414" stroke-width="0.78" />
<circle cx="246.6" cy="329.9" r="2.5" fill="#f4f4f4" stroke="#8a8a8a" stroke-width="1.05" />
<line x1="257.5" y1="314.2" x2="257.5" y2="353.6" stroke="#141414" stroke-width="1.55" />
<line x1="257.7" y1="345.5" x2="257.7" y2="353.6" stroke="#141414" stroke-width="3.1" />
<rect x="260.6" y="321.2" width="5.0" height="14.1" fill="#fff" stroke="#8a8a8a" stroke-width="0.8" rx="1"/>
<line x1="261.8" y1="324.5" x2="264.4" y2="324.5" stroke="#999" stroke-width="0.7" />
<line x1="261.8" y1="328.2" x2="264.4" y2="328.2" stroke="#999" stroke-width="0.7" />
<line x1="261.8" y1="332.0" x2="264.4" y2="332.0" stroke="#999" stroke-width="0.7" />
<path d="M258.0,343.7 A9.2,9.2 0 0 1 267.2,352.9" fill="none" stroke="#555" stroke-width="0.55" />
<line x1="267.4" y1="352.9" x2="294.9" y2="352.9" stroke="#141414" stroke-width="2.17" />
<line x1="288.8" y1="314.2" x2="288.8" y2="352.9" stroke="#141414" stroke-width="0.9099999999999999" />
<line x1="291.8" y1="314.2" x2="291.8" y2="345.0" stroke="#141414" stroke-width="0.65" />
<line x1="294.9" y1="314.2" x2="294.9" y2="352.9" stroke="#141414" stroke-width="1.8599999999999999" />
<rect x="289.2" y="322.0" width="5.2" height="5.2" fill="#ccc" stroke="#555" stroke-width="0.6" />
<rect x="288.0" y="345.2" width="6.6" height="7.2" fill="#ddd" stroke="#444" stroke-width="0.7" />
<path d="M296.5,314.0 L325.2,314.0 L325.2,352.9 L305.0,352.9" fill="none" stroke="#141414" stroke-width="1.55" />
<path d="M307.0,314.2 L307.0,330.4 L322.8,330.4" fill="none" stroke="#141414" stroke-width="1.04" />
<rect x="307.0" y="333.6" width="17.6" height="5.0" fill="none" stroke="#141414" stroke-width="1.04" />
<line x1="320.0" y1="323.0" x2="325.0" y2="323.0" stroke="#141414" stroke-width="0.9099999999999999" />
<line x1="320.0" y1="323.0" x2="320.0" y2="333.6" stroke="#141414" stroke-width="0.9099999999999999" />
<circle cx="312.8" cy="330.6" r="2.4" fill="#f4f4f4" stroke="#8a8a8a" stroke-width="1.05" />
<path d="M296.6,343.9 A9.0,9.0 0 0 1 305.6,352.9" fill="none" stroke="#555" stroke-width="0.55" />
<rect x="214.0" y="336.4" width="6.4" height="6.6" fill="none" stroke="#141414" stroke-width="1.55" />
<circle cx="217.0" cy="348.2" r="2.9" fill="none" stroke="#141414" stroke-width="1.1700000000000002" />
<rect x="214.0" y="353.2" width="6.4" height="6.6" fill="none" stroke="#141414" stroke-width="1.55" />
<line x1="212.0" y1="338.0" x2="214.0" y2="340.0" stroke="#141414" stroke-width="1.04" />
<line x1="212.0" y1="358.0" x2="214.0" y2="356.0" stroke="#141414" stroke-width="1.04" />
<line x1="213.0" y1="368.0" x2="236.0" y2="368.0" stroke="#141414" stroke-width="0.78" />
<line x1="236.0" y1="367.7" x2="261.0" y2="367.7" stroke="#141414" stroke-width="1.8599999999999999" />
<path d="M270.8,377.8 A9.8,9.8 0 0 1 261.0,368.0" fill="none" stroke="#555" stroke-width="0.55" />
<line x1="271.8" y1="367.6" x2="271.8" y2="410.2" stroke="#141414" stroke-width="2.4800000000000004" />
<line x1="271.8" y1="368.0" x2="292.0" y2="368.0" stroke="#141414" stroke-width="1.8599999999999999" />
<path d="M302.0,378.0 A9.8,9.8 0 0 1 292.2,368.2" fill="none" stroke="#555" stroke-width="0.55" />
<path d="M313.0,368.2 A9.8,9.8 0 0 1 303.2,378.0" fill="none" stroke="#555" stroke-width="0.55" />
<line x1="302.6" y1="367.4" x2="302.6" y2="410.2" stroke="#141414" stroke-width="2.79" />
<line x1="302.6" y1="367.4" x2="302.6" y2="377.5" stroke="#141414" stroke-width="4.34" />
<line x1="313.2" y1="368.0" x2="331.2" y2="368.0" stroke="#141414" stroke-width="1.8599999999999999" />
<path d="M331.2,368.0 L333.3,373.8 L333.3,410.2" fill="none" stroke="#141414" stroke-width="1.7050000000000003" />
<path d="M333.3,373.8 L336.0,377.0 L333.3,378.5 Z" fill="none" stroke="#141414" stroke-width="0.78" />
<rect x="273.8" y="380.9" width="16.2" height="8.0" fill="none" stroke="#141414" stroke-width="1.04" />
<path d="M273.8,388.9 L273.8,401.0 L278.0,401.0 L278.0,388.9" fill="none" stroke="#141414" stroke-width="1.04" />
<rect x="273.8" y="401.0" width="16.2" height="5.2" fill="none" stroke="#141414" stroke-width="1.04" />
<line x1="273.8" y1="403.6" x2="290.0" y2="403.6" stroke="#141414" stroke-width="0.65" />
<rect x="314.8" y="380.9" width="16.2" height="8.0" fill="none" stroke="#141414" stroke-width="1.04" />
<path d="M314.8,388.9 L314.8,401.0 L319.0,401.0 L319.0,388.9" fill="none" stroke="#141414" stroke-width="1.04" />
<rect x="314.8" y="401.0" width="16.2" height="5.2" fill="none" stroke="#141414" stroke-width="1.04" />
<line x1="314.8" y1="403.6" x2="331.0" y2="403.6" stroke="#141414" stroke-width="0.65" />
<circle cx="283.4" cy="392.6" r="2.5" fill="#f4f4f4" stroke="#8a8a8a" stroke-width="1.05" />
<circle cx="321.2" cy="392.6" r="2.5" fill="#f4f4f4" stroke="#8a8a8a" stroke-width="1.05" />
<rect x="224.8" y="380.0" width="5.2" height="4.0" fill="#777" stroke="#111" stroke-width="1.1700000000000002" rx="1.1"/>
<rect x="224.8" y="393.6" width="5.2" height="4.0" fill="#777" stroke="#111" stroke-width="1.1700000000000002" rx="1.1"/>
<rect x="232.1" y="380.0" width="5.2" height="4.0" fill="#777" stroke="#111" stroke-width="1.1700000000000002" rx="1.1"/>
<rect x="232.1" y="393.6" width="5.2" height="4.0" fill="#777" stroke="#111" stroke-width="1.1700000000000002" rx="1.1"/>
<rect x="239.4" y="380.0" width="5.2" height="4.0" fill="#777" stroke="#111" stroke-width="1.1700000000000002" rx="1.1"/>
<rect x="239.4" y="393.6" width="5.2" height="4.0" fill="#777" stroke="#111" stroke-width="1.1700000000000002" rx="1.1"/>
<rect x="246.7" y="380.0" width="5.2" height="4.0" fill="#777" stroke="#111" stroke-width="1.1700000000000002" rx="1.1"/>
<rect x="246.7" y="393.6" width="5.2" height="4.0" fill="#777" stroke="#111" stroke-width="1.1700000000000002" rx="1.1"/>
<rect x="254.0" y="380.0" width="5.2" height="4.0" fill="#777" stroke="#111" stroke-width="1.1700000000000002" rx="1.1"/>
<rect x="254.0" y="393.6" width="5.2" height="4.0" fill="#777" stroke="#111" stroke-width="1.1700000000000002" rx="1.1"/>
<rect x="220.3" y="385.7" width="3.5" height="6.2" fill="#777" stroke="#111" stroke-width="1.1700000000000002" rx="1.1"/>
<rect x="260.2" y="385.7" width="3.5" height="6.2" fill="#777" stroke="#111" stroke-width="1.1700000000000002" rx="1.1"/>
<path d="M224.6,383.6 L259.4,383.6 L260.6,384.8 L260.6,392.8 L259.4,394.0 L224.6,394.0 L223.4,392.8 L223.4,384.8 Z" fill="#f8fafb" stroke="#141414" stroke-width="1.7825" />
<clipPath id="inB"><path d="M32.0,60.0 H225.5 V130 H269.5 V152.6 H152.5 V313.7 H209 V409.8 H32 Z"/></clipPath>
<path d="M143.7,49.0 L158.9,49.0 L158.9,65.0 L143.7,65.0 Z" fill="#9b9b9b" stroke="none" stroke-width="0" />
<path d="M257.3,49.2 L272.5,49.2 L272.5,65.2 L257.3,65.2 Z" fill="#9b9b9b" stroke="none" stroke-width="0" />
<path d="M143.7,406.3 L158.9,406.3 L158.9,422.5 L143.7,422.5 Z" fill="#9b9b9b" stroke="none" stroke-width="0" />
<path d="M257.3,406.3 L272.5,406.3 L272.5,422.5 L257.3,422.5 Z" fill="#9b9b9b" stroke="none" stroke-width="0" />
<path d="M21.2,171.0 L37.4,171.0 L37.4,186.5 L21.2,186.5 Z" fill="#9b9b9b" stroke="none" stroke-width="0" />
<path d="M21.2,284.8 L37.4,284.8 L37.4,300.3 L21.2,300.3 Z" fill="#9b9b9b" stroke="none" stroke-width="0" />
<path d="M379.3,171.3 L394.8,171.3 L394.8,186.8 L379.3,186.8 Z" fill="#9b9b9b" stroke="none" stroke-width="0" />
<path d="M379.3,284.8 L394.8,284.8 L394.8,300.3 L379.3,300.3 Z" fill="#9b9b9b" stroke="none" stroke-width="0" />
<path d="M23.9,64.0 L35.2,52.1 L45.8,52.1 L45.8,65.4 L37.5,65.4 L37.5,73.5 L23.9,73.5 Z" fill="#9b9b9b" stroke="none" stroke-width="0" />
<path d="M369.9,51.7 L381.0,51.7 L392.3,63.0 L392.3,72.4 L378.6,72.4 L378.6,65.5 L369.9,65.5 Z" fill="#9b9b9b" stroke="none" stroke-width="0" />
<path d="M23.9,398.1 L37.5,398.1 L37.5,404.6 L45.8,404.6 L45.8,419.3 L35.0,419.3 L23.9,408.2 Z" fill="#9b9b9b" stroke="none" stroke-width="0" />
<path d="M378.6,398.1 L392.3,398.1 L392.3,408.0 L381.4,418.8 L369.9,418.8 L369.9,405.0 L378.6,405.0 Z" fill="#9b9b9b" stroke="none" stroke-width="0" />
<g clip-path="url(#inB)">
<path d="M143.7,49.0 L158.9,49.0 L158.9,65.0 L143.7,65.0 Z" fill="#787878" stroke="none" stroke-width="0" />
<path d="M257.3,49.2 L272.5,49.2 L272.5,65.2 L257.3,65.2 Z" fill="#787878" stroke="none" stroke-width="0" />
<path d="M143.7,406.3 L158.9,406.3 L158.9,422.5 L143.7,422.5 Z" fill="#787878" stroke="none" stroke-width="0" />
<path d="M257.3,406.3 L272.5,406.3 L272.5,422.5 L257.3,422.5 Z" fill="#787878" stroke="none" stroke-width="0" />
<path d="M21.2,171.0 L37.4,171.0 L37.4,186.5 L21.2,186.5 Z" fill="#787878" stroke="none" stroke-width="0" />
<path d="M21.2,284.8 L37.4,284.8 L37.4,300.3 L21.2,300.3 Z" fill="#787878" stroke="none" stroke-width="0" />
<path d="M379.3,171.3 L394.8,171.3 L394.8,186.8 L379.3,186.8 Z" fill="#787878" stroke="none" stroke-width="0" />
<path d="M379.3,284.8 L394.8,284.8 L394.8,300.3 L379.3,300.3 Z" fill="#787878" stroke="none" stroke-width="0" />
<path d="M23.9,64.0 L35.2,52.1 L45.8,52.1 L45.8,65.4 L37.5,65.4 L37.5,73.5 L23.9,73.5 Z" fill="#787878" stroke="none" stroke-width="0" />
<path d="M369.9,51.7 L381.0,51.7 L392.3,63.0 L392.3,72.4 L378.6,72.4 L378.6,65.5 L369.9,65.5 Z" fill="#787878" stroke="none" stroke-width="0" />
<path d="M23.9,398.1 L37.5,398.1 L37.5,404.6 L45.8,404.6 L45.8,419.3 L35.0,419.3 L23.9,408.2 Z" fill="#787878" stroke="none" stroke-width="0" />
<path d="M378.6,398.1 L392.3,398.1 L392.3,408.0 L381.4,418.8 L369.9,418.8 L369.9,405.0 L378.6,405.0 Z" fill="#787878" stroke="none" stroke-width="0" />
</g>
<path d="M227.5,65.5 L378.6,65.5 L378.6,405.0 L212.0,405.0" fill="none" stroke="#a9acae" stroke-width="0.8" />
<path d="M290.6,209.2 L385.0,209.2 L385.0,410.7 L209.8,410.7 L209.8,312.4 L286.0,312.4 L286.0,301.7 L290.6,301.7 Z" fill="none" stroke="#0e93e2" stroke-width="3.3" stroke-linejoin="miter"/>
<path d="M226.4,60.2 L382.6,60.2 L382.6,209.4 L292.2,209.4 L292.2,177.6 L314.2,177.6 L314.2,153.8 L270.6,153.8 L270.6,130.4 L226.4,130.4 Z" fill="none" stroke="#0e93e2" stroke-width="3.7" stroke-linejoin="miter"/>
<path d="M225.5,61.0 L383.6,61.0 L383.6,410.4 L209.0,410.4" fill="none" stroke="#143f9c" stroke-width="1.5" stroke-dasharray="6.5 1.0"/>
<path d="M225.4,61.0 L225.4,129.6 L269.5,129.6 L269.5,152.8 L314.6,152.8" fill="none" stroke="#143f9c" stroke-width="1.5" stroke-dasharray="6.5 1.0"/>
<path d="M209.0,410.4 L209.0,313.4 L286.0,313.4" fill="none" stroke="#143f9c" stroke-width="1.5" stroke-dasharray="6.5 1.0"/>
<path d="M291.0,210.0 L385.0,210.0" fill="none" stroke="#143f9c" stroke-width="2.0" opacity="0.9"/>
<path d="M269.0,153.6 L316.0,153.6" fill="none" stroke="#143f9c" stroke-width="2.8" opacity="0.92"/>
<path d="M314.9,154.6 L314.9,177.0" fill="none" stroke="#143f9c" stroke-width="1.1" opacity="0.8"/>
<path d="M292.0,177.0 L316.0,177.0" fill="none" stroke="#143f9c" stroke-width="2.5" opacity="0.92"/>
<path d="M286.2,311.6 L286.2,302.4 L290.2,302.4 L290.2,210.0" fill="none" stroke="#143f9c" stroke-width="1.0" opacity="0.6"/>
<clipPath id="hc2"><path d="M50.1,476.9 L372.6,476.9 L372.6,644.9 L50.1,644.9 Z"/></clipPath>
<path d="M50.1,476.9 L372.6,476.9 L372.6,644.9 L50.1,644.9 Z" fill="#fbfbfc"/>
<path clip-path="url(#hc2)" d="M-123.30,645.9l170.0,-170.0M-119.90,645.9l170.0,-170.0M-116.50,645.9l170.0,-170.0M-113.10,645.9l170.0,-170.0M-109.70,645.9l170.0,-170.0M-106.30,645.9l170.0,-170.0M-102.90,645.9l170.0,-170.0M-99.50,645.9l170.0,-170.0M-96.10,645.9l170.0,-170.0M-92.70,645.9l170.0,-170.0M-89.30,645.9l170.0,-170.0M-85.90,645.9l170.0,-170.0M-82.50,645.9l170.0,-170.0M-79.10,645.9l170.0,-170.0M-75.70,645.9l170.0,-170.0M-72.30,645.9l170.0,-170.0M-68.90,645.9l170.0,-170.0M-65.50,645.9l170.0,-170.0M-62.10,645.9l170.0,-170.0M-58.70,645.9l170.0,-170.0M-55.30,645.9l170.0,-170.0M-51.90,645.9l170.0,-170.0M-48.50,645.9l170.0,-170.0M-45.10,645.9l170.0,-170.0M-41.70,645.9l170.0,-170.0M-38.30,645.9l170.0,-170.0M-34.90,645.9l170.0,-170.0M-31.50,645.9l170.0,-170.0M-28.10,645.9l170.0,-170.0M-24.70,645.9l170.0,-170.0M-21.30,645.9l170.0,-170.0M-17.90,645.9l170.0,-170.0M-14.50,645.9l170.0,-170.0M-11.10,645.9l170.0,-170.0M-7.70,645.9l170.0,-170.0M-4.30,645.9l170.0,-170.0M-0.90,645.9l170.0,-170.0M2.50,645.9l170.0,-170.0M5.90,645.9l170.0,-170.0M9.30,645.9l170.0,-170.0M12.70,645.9l170.0,-170.0M16.10,645.9l170.0,-170.0M19.50,645.9l170.0,-170.0M22.90,645.9l170.0,-170.0M26.30,645.9l170.0,-170.0M29.70,645.9l170.0,-170.0M33.10,645.9l170.0,-170.0M36.50,645.9l170.0,-170.0M39.90,645.9l170.0,-170.0M43.30,645.9l170.0,-170.0M46.70,645.9l170.0,-170.0M50.10,645.9l170.0,-170.0M53.50,645.9l170.0,-170.0M56.90,645.9l170.0,-170.0M60.30,645.9l170.0,-170.0M63.70,645.9l170.0,-170.0M67.10,645.9l170.0,-170.0M70.50,645.9l170.0,-170.0M73.90,645.9l170.0,-170.0M77.30,645.9l170.0,-170.0M80.70,645.9l170.0,-170.0M84.10,645.9l170.0,-170.0M87.50,645.9l170.0,-170.0M90.90,645.9l170.0,-170.0M94.30,645.9l170.0,-170.0M97.70,645.9l170.0,-170.0M101.10,645.9l170.0,-170.0M104.50,645.9l170.0,-170.0M107.90,645.9l170.0,-170.0M111.30,645.9l170.0,-170.0M114.70,645.9l170.0,-170.0M118.10,645.9l170.0,-170.0M121.50,645.9l170.0,-170.0M124.90,645.9l170.0,-170.0M128.30,645.9l170.0,-170.0M131.70,645.9l170.0,-170.0M135.10,645.9l170.0,-170.0M138.50,645.9l170.0,-170.0M141.90,645.9l170.0,-170.0M145.30,645.9l170.0,-170.0M148.70,645.9l170.0,-170.0M152.10,645.9l170.0,-170.0M155.50,645.9l170.0,-170.0M158.90,645.9l170.0,-170.0M162.30,645.9l170.0,-170.0M165.70,645.9l170.0,-170.0M169.10,645.9l170.0,-170.0M172.50,645.9l170.0,-170.0M175.90,645.9l170.0,-170.0M179.30,645.9l170.0,-170.0M182.70,645.9l170.0,-170.0M186.10,645.9l170.0,-170.0M189.50,645.9l170.0,-170.0M192.90,645.9l170.0,-170.0M196.30,645.9l170.0,-170.0M199.70,645.9l170.0,-170.0M203.10,645.9l170.0,-170.0M206.50,645.9l170.0,-170.0M209.90,645.9l170.0,-170.0M213.30,645.9l170.0,-170.0M216.70,645.9l170.0,-170.0M220.10,645.9l170.0,-170.0M223.50,645.9l170.0,-170.0M226.90,645.9l170.0,-170.0M230.30,645.9l170.0,-170.0M233.70,645.9l170.0,-170.0M237.10,645.9l170.0,-170.0M240.50,645.9l170.0,-170.0M243.90,645.9l170.0,-170.0M247.30,645.9l170.0,-170.0M250.70,645.9l170.0,-170.0M254.10,645.9l170.0,-170.0M257.50,645.9l170.0,-170.0M260.90,645.9l170.0,-170.0M264.30,645.9l170.0,-170.0M267.70,645.9l170.0,-170.0M271.10,645.9l170.0,-170.0M274.50,645.9l170.0,-170.0M277.90,645.9l170.0,-170.0M281.30,645.9l170.0,-170.0M284.70,645.9l170.0,-170.0M288.10,645.9l170.0,-170.0M291.50,645.9l170.0,-170.0M294.90,645.9l170.0,-170.0M298.30,645.9l170.0,-170.0M301.70,645.9l170.0,-170.0M305.10,645.9l170.0,-170.0M308.50,645.9l170.0,-170.0M311.90,645.9l170.0,-170.0M315.30,645.9l170.0,-170.0M318.70,645.9l170.0,-170.0M322.10,645.9l170.0,-170.0M325.50,645.9l170.0,-170.0M328.90,645.9l170.0,-170.0M332.30,645.9l170.0,-170.0M335.70,645.9l170.0,-170.0M339.10,645.9l170.0,-170.0M342.50,645.9l170.0,-170.0M345.90,645.9l170.0,-170.0M349.30,645.9l170.0,-170.0M352.70,645.9l170.0,-170.0M356.10,645.9l170.0,-170.0M359.50,645.9l170.0,-170.0M362.90,645.9l170.0,-170.0M366.30,645.9l170.0,-170.0M369.70,645.9l170.0,-170.0M373.10,645.9l170.0,-170.0" stroke="#8a8a8a" stroke-width="0.85" fill="none"/>
<clipPath id="hc3"><path d="M58.2,485.8 L226.2,485.8 L226.2,542.2 L268.5,542.2 L268.5,563.2 L161.2,563.2 L161.2,581.3 L172.4,581.3 L174.4,644.9 L58.2,644.9 Z"/></clipPath>
<path d="M58.2,485.8 L226.2,485.8 L226.2,542.2 L268.5,542.2 L268.5,563.2 L161.2,563.2 L161.2,581.3 L172.4,581.3 L174.4,644.9 L58.2,644.9 Z" fill="#b3b7bb"/>
<path clip-path="url(#hc3)" d="M-107.20,645.9l161.1,-161.1M-102.90,645.9l161.1,-161.1M-98.60,645.9l161.1,-161.1M-94.30,645.9l161.1,-161.1M-90.00,645.9l161.1,-161.1M-85.70,645.9l161.1,-161.1M-81.40,645.9l161.1,-161.1M-77.10,645.9l161.1,-161.1M-72.80,645.9l161.1,-161.1M-68.50,645.9l161.1,-161.1M-64.20,645.9l161.1,-161.1M-59.90,645.9l161.1,-161.1M-55.60,645.9l161.1,-161.1M-51.30,645.9l161.1,-161.1M-47.00,645.9l161.1,-161.1M-42.70,645.9l161.1,-161.1M-38.40,645.9l161.1,-161.1M-34.10,645.9l161.1,-161.1M-29.80,645.9l161.1,-161.1M-25.50,645.9l161.1,-161.1M-21.20,645.9l161.1,-161.1M-16.90,645.9l161.1,-161.1M-12.60,645.9l161.1,-161.1M-8.30,645.9l161.1,-161.1M-4.00,645.9l161.1,-161.1M0.30,645.9l161.1,-161.1M4.60,645.9l161.1,-161.1M8.90,645.9l161.1,-161.1M13.20,645.9l161.1,-161.1M17.50,645.9l161.1,-161.1M21.80,645.9l161.1,-161.1M26.10,645.9l161.1,-161.1M30.40,645.9l161.1,-161.1M34.70,645.9l161.1,-161.1M39.00,645.9l161.1,-161.1M43.30,645.9l161.1,-161.1M47.60,645.9l161.1,-161.1M51.90,645.9l161.1,-161.1M56.20,645.9l161.1,-161.1M60.50,645.9l161.1,-161.1M64.80,645.9l161.1,-161.1M69.10,645.9l161.1,-161.1M73.40,645.9l161.1,-161.1M77.70,645.9l161.1,-161.1M82.00,645.9l161.1,-161.1M86.30,645.9l161.1,-161.1M90.60,645.9l161.1,-161.1M94.90,645.9l161.1,-161.1M99.20,645.9l161.1,-161.1M103.50,645.9l161.1,-161.1M107.80,645.9l161.1,-161.1M112.10,645.9l161.1,-161.1M116.40,645.9l161.1,-161.1M120.70,645.9l161.1,-161.1M125.00,645.9l161.1,-161.1M129.30,645.9l161.1,-161.1M133.60,645.9l161.1,-161.1M137.90,645.9l161.1,-161.1M142.20,645.9l161.1,-161.1M146.50,645.9l161.1,-161.1M150.80,645.9l161.1,-161.1M155.10,645.9l161.1,-161.1M159.40,645.9l161.1,-161.1M163.70,645.9l161.1,-161.1M168.00,645.9l161.1,-161.1M172.30,645.9l161.1,-161.1M176.60,645.9l161.1,-161.1M180.90,645.9l161.1,-161.1M185.20,645.9l161.1,-161.1M189.50,645.9l161.1,-161.1M193.80,645.9l161.1,-161.1M198.10,645.9l161.1,-161.1M202.40,645.9l161.1,-161.1M206.70,645.9l161.1,-161.1M211.00,645.9l161.1,-161.1M215.30,645.9l161.1,-161.1M219.60,645.9l161.1,-161.1M223.90,645.9l161.1,-161.1M228.20,645.9l161.1,-161.1M232.50,645.9l161.1,-161.1M236.80,645.9l161.1,-161.1M241.10,645.9l161.1,-161.1M245.40,645.9l161.1,-161.1M249.70,645.9l161.1,-161.1M254.00,645.9l161.1,-161.1M258.30,645.9l161.1,-161.1M262.60,645.9l161.1,-161.1M266.90,645.9l161.1,-161.1M271.20,645.9l161.1,-161.1" stroke="#696c6f" stroke-width="1.12" fill="none"/>
<text x="95.2" y="534.7" font-size="15.6" fill="#fff" font-weight="bold" textLength="56.3" lengthAdjust="spacingAndGlyphs" >LEASED</text>
<path d="M226.6,480.0 L367.7,480.0 L367.7,613.3 L285.8,613.3 L285.8,585.2 L305.9,585.2 L305.9,565.1 L269.1,565.1 L269.1,542.5 L226.6,542.5 Z" fill="#fcfdfd" stroke="none" stroke-width="0" />
<rect x="263.1" y="566.7" width="23.7" height="9.6" fill="#f7f8f9" stroke="none" stroke-width="0" opacity="0.95"/>
<rect x="286.4" y="566.7" width="17.9" height="16.9" fill="#fcfdfd" stroke="none" stroke-width="0" />
<clipPath id="clipA"><rect x="0" y="0" width="372.6" height="644.9"/></clipPath>
<g clip-path="url(#clipA)"><g transform="translate(23.22,425.96) scale(0.9,0.891)">
<path d="M269.5,152.6 L152.5,152.6 L152.5,171.6 L162.0,171.6 L162.0,300.8" fill="none" stroke="#0d0d0d" stroke-width="2.0" stroke-dasharray="3.4 1.6"/>
<path d="M269.5,155.6 L155.6,155.6 L155.6,168.8 L164.4,168.8" fill="none" stroke="#0d0d0d" stroke-width="0.7" stroke-dasharray="2 1.5"/>
<path d="M152.5,170.6 L183.0,170.6" fill="none" stroke="url(#wallH)" stroke-width="4.2" />
<line x1="163.8" y1="171.0" x2="166.4" y2="300.0" stroke="url(#wallH)" stroke-width="3.0" />
<line x1="166.5" y1="171.0" x2="173.0" y2="300.0" stroke="#0d0d0d" stroke-width="0.8" stroke-dasharray="3.4 1.6"/>
<line x1="180.5" y1="171.0" x2="173.0" y2="300.0" stroke="#0d0d0d" stroke-width="0.8" stroke-dasharray="3.4 1.6"/>
<line x1="182.0" y1="172.0" x2="182.0" y2="300.0" stroke="url(#wallH)" stroke-width="2.8" />
<line x1="212.2" y1="169.0" x2="212.2" y2="300.0" stroke="url(#wallH)" stroke-width="3.2" />
<path d="M191.6,169.4 L191.6,190.8" fill="none" stroke="#0d0d0d" stroke-width="2.6" stroke-dasharray="3.4 1.6"/>
<line x1="191.6" y1="191.6" x2="212.0" y2="191.6" stroke="url(#wallH)" stroke-width="3.6" />
<text x="199.5" y="180.5" font-size="3.2" fill="#333" font-weight="bold" >ELEC.</text>
<path d="M183,176 q5,-1 6,5 M191,182 q4,3 2,7" fill="none" stroke="#222" stroke-width="0.7" />
<text x="189.0" y="204.6" font-size="3.0" fill="#222" font-weight="bold" >WOMEN'S</text>
<line x1="182.5" y1="209.0" x2="186.1" y2="221.5" stroke="#0d0d0d" stroke-width="0.8" />
<line x1="189.7" y1="209.0" x2="186.1" y2="221.5" stroke="#0d0d0d" stroke-width="0.8" />
<line x1="189.7" y1="209.0" x2="193.3" y2="221.5" stroke="#0d0d0d" stroke-width="0.8" />
<line x1="196.9" y1="209.0" x2="193.3" y2="221.5" stroke="#0d0d0d" stroke-width="0.8" />
<line x1="196.9" y1="209.0" x2="200.5" y2="221.5" stroke="#0d0d0d" stroke-width="0.8" />
<line x1="204.1" y1="209.0" x2="200.5" y2="221.5" stroke="#0d0d0d" stroke-width="0.8" />
<line x1="204.1" y1="209.0" x2="207.7" y2="221.5" stroke="#0d0d0d" stroke-width="0.8" />
<line x1="211.3" y1="209.0" x2="207.7" y2="221.5" stroke="#0d0d0d" stroke-width="0.8" />
<line x1="182.0" y1="207.5" x2="212.0" y2="207.5" stroke="#0d0d0d" stroke-width="0.8" stroke-dasharray="2 1.5"/>
<line x1="181.6" y1="227.6" x2="212.2" y2="227.6" stroke="url(#wallH)" stroke-width="6.0" />
<line x1="182.5" y1="229.5" x2="186.1" y2="243.0" stroke="#0d0d0d" stroke-width="0.8" />
<line x1="189.7" y1="229.5" x2="186.1" y2="243.0" stroke="#0d0d0d" stroke-width="0.8" />
<line x1="189.7" y1="229.5" x2="193.3" y2="243.0" stroke="#0d0d0d" stroke-width="0.8" />
<line x1="196.9" y1="229.5" x2="193.3" y2="243.0" stroke="#0d0d0d" stroke-width="0.8" />
<line x1="196.9" y1="229.5" x2="200.5" y2="243.0" stroke="#0d0d0d" stroke-width="0.8" />
<line x1="204.1" y1="229.5" x2="200.5" y2="243.0" stroke="#0d0d0d" stroke-width="0.8" />
<line x1="204.1" y1="229.5" x2="207.7" y2="243.0" stroke="#0d0d0d" stroke-width="0.8" />
<line x1="211.3" y1="229.5" x2="207.7" y2="243.0" stroke="#0d0d0d" stroke-width="0.8" />
<text x="191.0" y="251.0" font-size="3.0" fill="#222" font-weight="bold" >MEN'S</text>
<rect x="235.6" y="170.8" width="26.8" height="131.0" fill="none" stroke="url(#wallH)" stroke-width="4.0" />
<rect x="239.8" y="197.8" width="19.6" height="17.4" fill="none" stroke="#0d0d0d" stroke-width="1.0" stroke-dasharray="5 1.5"/>
<line x1="239.8" y1="197.8" x2="259.4" y2="215.2" stroke="#0d0d0d" stroke-width="0.8" />
<line x1="259.4" y1="197.8" x2="239.8" y2="215.2" stroke="#0d0d0d" stroke-width="0.8" />
<rect x="239.8" y="223.6" width="19.6" height="17.4" fill="none" stroke="#0d0d0d" stroke-width="1.0" stroke-dasharray="5 1.5"/>
<line x1="239.8" y1="223.6" x2="259.4" y2="241.0" stroke="#0d0d0d" stroke-width="0.8" />
<line x1="259.4" y1="223.6" x2="239.8" y2="241.0" stroke="#0d0d0d" stroke-width="0.8" />
<rect x="239.8" y="249.7" width="19.6" height="17.4" fill="none" stroke="#0d0d0d" stroke-width="1.0" stroke-dasharray="5 1.5"/>
<line x1="239.8" y1="249.7" x2="259.4" y2="267.1" stroke="#0d0d0d" stroke-width="0.8" />
<line x1="259.4" y1="249.7" x2="239.8" y2="267.1" stroke="#0d0d0d" stroke-width="0.8" />
<rect x="277.4" y="170.6" width="11.8" height="22.6" fill="none" stroke="url(#wallH)" stroke-width="3.0" />
<line x1="278.5" y1="171.0" x2="288.4" y2="192.0" stroke="#0d0d0d" stroke-width="0.8" />
<line x1="288.4" y1="171.0" x2="278.5" y2="192.0" stroke="#0d0d0d" stroke-width="0.8" />
<line x1="265.4" y1="206.4" x2="288.8" y2="206.4" stroke="#0d0d0d" stroke-width="1.2" stroke-dasharray="3 1.0"/>
<line x1="265.4" y1="209.0" x2="288.8" y2="209.0" stroke="#0d0d0d" stroke-width="1.2" stroke-dasharray="3 1.0"/>
<line x1="265.4" y1="211.5" x2="288.8" y2="211.5" stroke="#0d0d0d" stroke-width="1.2" stroke-dasharray="3 1.0"/>
<line x1="265.4" y1="214.1" x2="288.8" y2="214.1" stroke="#0d0d0d" stroke-width="1.2" stroke-dasharray="3 1.0"/>
<line x1="265.4" y1="216.6" x2="288.8" y2="216.6" stroke="#0d0d0d" stroke-width="1.2" stroke-dasharray="3 1.0"/>
<line x1="265.4" y1="219.2" x2="288.8" y2="219.2" stroke="#0d0d0d" stroke-width="1.2" stroke-dasharray="3 1.0"/>
<line x1="265.4" y1="221.7" x2="288.8" y2="221.7" stroke="#0d0d0d" stroke-width="1.2" stroke-dasharray="3 1.0"/>
<line x1="265.4" y1="224.2" x2="288.8" y2="224.2" stroke="#0d0d0d" stroke-width="1.2" stroke-dasharray="3 1.0"/>
<line x1="265.4" y1="226.8" x2="288.8" y2="226.8" stroke="#0d0d0d" stroke-width="1.2" stroke-dasharray="3 1.0"/>
<line x1="265.4" y1="229.3" x2="288.8" y2="229.3" stroke="#0d0d0d" stroke-width="1.2" stroke-dasharray="3 1.0"/>
<line x1="265.4" y1="231.9" x2="288.8" y2="231.9" stroke="#0d0d0d" stroke-width="1.2" stroke-dasharray="3 1.0"/>
<line x1="265.4" y1="234.4" x2="288.8" y2="234.4" stroke="#0d0d0d" stroke-width="1.2" stroke-dasharray="3 1.0"/>
<line x1="265.4" y1="237.0" x2="288.8" y2="237.0" stroke="#0d0d0d" stroke-width="1.2" stroke-dasharray="3 1.0"/>
<line x1="265.4" y1="239.6" x2="288.8" y2="239.6" stroke="#0d0d0d" stroke-width="1.2" stroke-dasharray="3 1.0"/>
<line x1="265.4" y1="242.1" x2="288.8" y2="242.1" stroke="#0d0d0d" stroke-width="1.2" stroke-dasharray="3 1.0"/>
<line x1="265.4" y1="244.7" x2="288.8" y2="244.7" stroke="#0d0d0d" stroke-width="1.2" stroke-dasharray="3 1.0"/>
<line x1="265.4" y1="247.2" x2="288.8" y2="247.2" stroke="#0d0d0d" stroke-width="1.2" stroke-dasharray="3 1.0"/>
<line x1="265.4" y1="249.8" x2="288.8" y2="249.8" stroke="#0d0d0d" stroke-width="1.2" stroke-dasharray="3 1.0"/>
<line x1="265.4" y1="252.3" x2="288.8" y2="252.3" stroke="#0d0d0d" stroke-width="1.2" stroke-dasharray="3 1.0"/>
<line x1="265.4" y1="254.8" x2="288.8" y2="254.8" stroke="#0d0d0d" stroke-width="1.2" stroke-dasharray="3 1.0"/>
<line x1="265.4" y1="257.4" x2="288.8" y2="257.4" stroke="#0d0d0d" stroke-width="1.2" stroke-dasharray="3 1.0"/>
<line x1="277.0" y1="205.5" x2="277.0" y2="259.0" stroke="#0d0d0d" stroke-width="1.6" stroke-dasharray="3.4 1.6"/>
<line x1="265.2" y1="205.5" x2="265.2" y2="259.0" stroke="#0d0d0d" stroke-width="0.8" stroke-dasharray="3.4 1.6"/>
<path d="M244,169 q-1,8 -9,9 M265,169 q1,8 10,9" fill="none" stroke="#222" stroke-width="0.7" />
<line x1="292.7" y1="219.5" x2="297.5" y2="219.5" stroke="#0d0d0d" stroke-width="1.0" stroke-dasharray="2.6 1.3"/>
<line x1="297.5" y1="219.5" x2="297.5" y2="233.6" stroke="#0d0d0d" stroke-width="1.0" stroke-dasharray="2.6 1.3"/>
<line x1="292.7" y1="233.6" x2="309.2" y2="233.6" stroke="#0d0d0d" stroke-width="1.0" stroke-dasharray="2.6 1.3"/>
<rect x="309.2" y="231.1" width="5.4" height="6.2" fill="none" stroke="#0d0d0d" stroke-width="1.0" stroke-dasharray="2 1"/>
<circle cx="302.4" cy="231.1" r="2.3" fill="#444" stroke="none" stroke-width="0" />
<line x1="292.7" y1="238.3" x2="314.9" y2="238.3" stroke="#0d0d0d" stroke-width="1.0" stroke-dasharray="2.6 1.3"/>
<line x1="297.5" y1="238.3" x2="297.5" y2="252.4" stroke="#0d0d0d" stroke-width="1.0" stroke-dasharray="2.6 1.3"/>
<line x1="292.7" y1="252.4" x2="309.2" y2="252.4" stroke="#0d0d0d" stroke-width="1.0" stroke-dasharray="2.6 1.3"/>
<rect x="309.2" y="249.9" width="5.4" height="6.2" fill="none" stroke="#0d0d0d" stroke-width="1.0" stroke-dasharray="2 1"/>
<circle cx="302.4" cy="249.9" r="2.3" fill="#444" stroke="none" stroke-width="0" />
<line x1="339.6" y1="211.5" x2="339.6" y2="231.0" stroke="#0d0d0d" stroke-width="1.2" stroke-dasharray="2.6 1.3"/>
<path d="M339.6,231.0 A8.5,8.5 0 0 1 348.0,239.5" fill="none" stroke="#0d0d0d" stroke-width="1.0" />
<line x1="339.0" y1="240.6" x2="384.5" y2="240.6" stroke="#0d0d0d" stroke-width="2.4" stroke-dasharray="3.0 1.4"/>
<path d="M353.2,211.5 L353.2,229.0 L362.5,229.0" fill="none" stroke="#0d0d0d" stroke-width="1.0" stroke-dasharray="2.6 1.3"/>
<line x1="362.5" y1="215.4" x2="372.6" y2="215.4" stroke="#0d0d0d" stroke-width="1.0" stroke-dasharray="2.6 1.3"/>
<line x1="372.6" y1="211.5" x2="372.6" y2="229.0" stroke="#0d0d0d" stroke-width="1.0" stroke-dasharray="2.6 1.3"/>
<line x1="375.6" y1="211.5" x2="375.6" y2="229.0" stroke="#0d0d0d" stroke-width="0.9" stroke-dasharray="2.6 1.3"/>
<circle cx="365.0" cy="221.0" r="2.5" fill="#333" stroke="none" stroke-width="0" />
<line x1="380.4" y1="210.6" x2="380.4" y2="250.0" stroke="#0d0d0d" stroke-width="1.1" stroke-dasharray="2.6 1.3"/>
<line x1="384.4" y1="210.6" x2="384.4" y2="250.0" stroke="#0d0d0d" stroke-width="2.0" stroke-dasharray="2.6 1.4"/>
</g></g>
<text x="220.5" y="644.6" font-size="15.0" fill="#111" font-weight="bold" >5</text>
<line x1="50.1" y1="476.9" x2="50.1" y2="644.9" stroke="#0d0d0d" stroke-width="1.1" stroke-dasharray="4.2 0.9"/>
<line x1="50.1" y1="476.9" x2="226.6" y2="476.9" stroke="#0d0d0d" stroke-width="1.1" stroke-dasharray="4.2 0.9"/>
<line x1="52.9" y1="480.0" x2="52.9" y2="644.9" stroke="#0d0d0d" stroke-width="1.0" stroke-dasharray="4.2 0.9"/>
<line x1="52.9" y1="480.0" x2="226.6" y2="480.0" stroke="#0d0d0d" stroke-width="1.0" stroke-dasharray="4.2 0.9"/>
<line x1="54.6" y1="481.9" x2="54.6" y2="644.9" stroke="#0d0d0d" stroke-width="1.5" stroke-dasharray="4.2 0.9"/>
<line x1="54.6" y1="481.9" x2="226.6" y2="481.9" stroke="#0d0d0d" stroke-width="1.5" stroke-dasharray="4.2 0.9"/>
<line x1="57.8" y1="485.4" x2="57.8" y2="644.9" stroke="#0d0d0d" stroke-width="1.2" stroke-dasharray="4.2 0.9"/>
<line x1="57.8" y1="485.4" x2="226.6" y2="485.4" stroke="#0d0d0d" stroke-width="1.2" stroke-dasharray="4.2 0.9"/>
<line x1="225.6" y1="476.9" x2="372.1" y2="476.9" stroke="#0d0d0d" stroke-width="1.2" />
<line x1="372.1" y1="484.9" x2="372.1" y2="644.9" stroke="#0d0d0d" stroke-width="1.0" />
<line x1="369.3" y1="613.3" x2="369.3" y2="644.9" stroke="#0d0d0d" stroke-width="1.0" stroke-dasharray="3.4 1.2"/>
<line x1="364.3" y1="483.0" x2="364.3" y2="611.3" stroke="#0d0d0d" stroke-width="1.0" />
<line x1="228.6" y1="483.0" x2="364.7" y2="483.0" stroke="#0d0d0d" stroke-width="1.1" stroke-dasharray="3.0 2.2"/>
<line x1="262.3" y1="484.9" x2="262.3" y2="532.4" stroke="#333" stroke-width="0.81" />
<path d="M254.1,540.8 A8.2,8.2 0 0 1 262.3,532.6" fill="none" stroke="#222" stroke-width="0.6" />
<rect x="233.8" y="496.9" width="4.8" height="5.0" fill="#fff" stroke="#0d0d0d" stroke-width="1.7" rx="1.7"/>
<rect x="251.5" y="496.9" width="4.8" height="5.0" fill="#fff" stroke="#0d0d0d" stroke-width="1.7" rx="1.7"/>
<rect x="233.8" y="504.4" width="4.8" height="5.0" fill="#fff" stroke="#0d0d0d" stroke-width="1.7" rx="1.7"/>
<rect x="251.5" y="504.4" width="4.8" height="5.0" fill="#fff" stroke="#0d0d0d" stroke-width="1.7" rx="1.7"/>
<rect x="233.8" y="511.9" width="4.8" height="5.0" fill="#fff" stroke="#0d0d0d" stroke-width="1.7" rx="1.7"/>
<rect x="251.5" y="511.9" width="4.8" height="5.0" fill="#fff" stroke="#0d0d0d" stroke-width="1.7" rx="1.7"/>
<rect x="233.8" y="518.8" width="4.8" height="5.0" fill="#fff" stroke="#0d0d0d" stroke-width="1.7" rx="1.7"/>
<rect x="251.5" y="518.8" width="4.8" height="5.0" fill="#fff" stroke="#0d0d0d" stroke-width="1.7" rx="1.7"/>
<rect x="242.4" y="490.1" width="5.2" height="4.6" fill="#fff" stroke="#0d0d0d" stroke-width="1.7" rx="1.7"/>
<rect x="242.4" y="526.3" width="5.2" height="4.6" fill="#fff" stroke="#0d0d0d" stroke-width="1.7" rx="1.7"/>
<rect x="239.7" y="495.4" width="10.9" height="29.9" fill="#fff" stroke="#0d0d0d" stroke-width="1.4850000000000003" />
<text x="236.5" y="534.6" font-size="2.6" fill="#222" font-weight="bold" text-anchor="middle" >MEETING</text>
<rect x="238.7" y="537.8" width="11.2" height="4.0" fill="#fff" stroke="#0d0d0d" stroke-width="0.945" />
<rect x="268.8" y="486.4" width="6.8" height="6.8" fill="none" stroke="#0d0d0d" stroke-width="1.89" />
<rect x="287.4" y="486.4" width="6.8" height="6.8" fill="none" stroke="#0d0d0d" stroke-width="1.89" />
<rect x="270.6" y="488.2" width="3.2" height="3.2" fill="#f2f2f2" stroke="none" stroke-width="0" />
<rect x="289.2" y="488.2" width="3.2" height="3.2" fill="#f2f2f2" stroke="none" stroke-width="0" />
<circle cx="281.0" cy="489.9" r="3.5" fill="none" stroke="#0d0d0d" stroke-width="1.08" />
<text x="282.7" y="497.0" font-size="2.6" fill="#222" font-weight="bold" text-anchor="middle" >CAFE /</text>
<text x="282.7" y="499.6" font-size="2.6" fill="#222" font-weight="bold" text-anchor="middle" >LOUNGE</text>
<rect x="276.4" y="504.5" width="2.8" height="3.5" fill="#fff" stroke="#0d0d0d" stroke-width="1.215" />
<rect x="287.2" y="504.5" width="2.8" height="3.5" fill="#fff" stroke="#0d0d0d" stroke-width="1.215" />
<rect x="276.4" y="509.9" width="2.8" height="3.5" fill="#fff" stroke="#0d0d0d" stroke-width="1.215" />
<rect x="287.2" y="509.9" width="2.8" height="3.5" fill="#fff" stroke="#0d0d0d" stroke-width="1.215" />
<rect x="276.4" y="515.3" width="2.8" height="3.5" fill="#fff" stroke="#0d0d0d" stroke-width="1.215" />
<rect x="287.2" y="515.3" width="2.8" height="3.5" fill="#fff" stroke="#0d0d0d" stroke-width="1.215" />
<rect x="276.4" y="520.7" width="2.8" height="3.5" fill="#fff" stroke="#0d0d0d" stroke-width="1.215" />
<rect x="287.2" y="520.7" width="2.8" height="3.5" fill="#fff" stroke="#0d0d0d" stroke-width="1.215" />
<rect x="279.2" y="503.6" width="8.0" height="21.7" fill="#9a9a9a" stroke="#0d0d0d" stroke-width="1.08" />
<rect x="303.4" y="484.9" width="6.2" height="33.6" fill="#b5b5b5" stroke="#0d0d0d" stroke-width="1.08" />
<line x1="306.5" y1="484.9" x2="306.5" y2="518.5" stroke="#0d0d0d" stroke-width="0.675" />
<line x1="303.4" y1="491.0" x2="309.6" y2="491.0" stroke="#0d0d0d" stroke-width="0.675" />
<line x1="303.4" y1="497.5" x2="309.6" y2="497.5" stroke="#0d0d0d" stroke-width="0.675" />
<line x1="303.4" y1="504.0" x2="309.6" y2="504.0" stroke="#0d0d0d" stroke-width="0.675" />
<line x1="303.4" y1="510.5" x2="309.6" y2="510.5" stroke="#0d0d0d" stroke-width="0.675" />
<rect x="302.0" y="517.6" width="8.6" height="7.6" fill="#fff" stroke="#0d0d0d" stroke-width="2.0250000000000004" />
<rect x="306.6" y="517.6" width="4.0" height="7.6" fill="#222" stroke="none" stroke-width="0" />
<path d="M310.9,517.0 A8.6,8.6 0 0 1 319.5,525.6" fill="none" stroke="#222" stroke-width="0.6" />
<line x1="310.2" y1="484.9" x2="310.2" y2="517.6" stroke="#0d0d0d" stroke-width="1.62" />
<rect x="315.6" y="484.9" width="48.6" height="5.0" fill="#fff" stroke="#0d0d0d" stroke-width="1.08" />
<line x1="327.8" y1="484.9" x2="327.8" y2="489.9" stroke="#0d0d0d" stroke-width="0.81" />
<line x1="339.9" y1="484.9" x2="339.9" y2="489.9" stroke="#0d0d0d" stroke-width="0.81" />
<line x1="352.1" y1="484.9" x2="352.1" y2="489.9" stroke="#0d0d0d" stroke-width="0.81" />
<circle cx="322.1" cy="493.6" r="3.0" fill="none" stroke="#0d0d0d" stroke-width="1.5" stroke-dasharray="2.3 0.85"/>
<circle cx="322.1" cy="493.6" r="2.6" fill="#0d0d0d" stroke="none" stroke-width="0" />
<rect x="321.0" y="492.5" width="2.2" height="2.1" fill="#fff" stroke="none" stroke-width="0" rx="0.7"/>
<circle cx="334.0" cy="493.6" r="3.0" fill="none" stroke="#0d0d0d" stroke-width="1.5" stroke-dasharray="2.3 0.85"/>
<circle cx="334.0" cy="493.6" r="2.6" fill="#0d0d0d" stroke="none" stroke-width="0" />
<rect x="332.9" y="492.5" width="2.2" height="2.1" fill="#fff" stroke="none" stroke-width="0" rx="0.7"/>
<circle cx="346.2" cy="493.6" r="3.0" fill="none" stroke="#0d0d0d" stroke-width="1.5" stroke-dasharray="2.3 0.85"/>
<circle cx="346.2" cy="493.6" r="2.6" fill="#0d0d0d" stroke="none" stroke-width="0" />
<rect x="345.1" y="492.5" width="2.2" height="2.1" fill="#fff" stroke="none" stroke-width="0" rx="0.7"/>
<circle cx="358.6" cy="493.6" r="3.0" fill="none" stroke="#0d0d0d" stroke-width="1.5" stroke-dasharray="2.3 0.85"/>
<circle cx="358.6" cy="493.6" r="2.6" fill="#0d0d0d" stroke="none" stroke-width="0" />
<rect x="357.5" y="492.5" width="2.2" height="2.1" fill="#fff" stroke="none" stroke-width="0" rx="0.7"/>
<rect x="327.6" y="519.8" width="36.6" height="5.5" fill="#fff" stroke="#0d0d0d" stroke-width="1.08" />
<line x1="339.9" y1="519.8" x2="339.9" y2="525.3" stroke="#0d0d0d" stroke-width="0.81" />
<line x1="352.1" y1="519.8" x2="352.1" y2="525.3" stroke="#0d0d0d" stroke-width="0.81" />
<circle cx="334.0" cy="516.2" r="3.0" fill="none" stroke="#0d0d0d" stroke-width="1.5" stroke-dasharray="2.3 0.85"/>
<circle cx="334.0" cy="516.2" r="2.6" fill="#0d0d0d" stroke="none" stroke-width="0" />
<rect x="332.9" y="515.1" width="2.2" height="2.1" fill="#fff" stroke="none" stroke-width="0" rx="0.7"/>
<circle cx="346.2" cy="516.2" r="3.0" fill="none" stroke="#0d0d0d" stroke-width="1.5" stroke-dasharray="2.3 0.85"/>
<circle cx="346.2" cy="516.2" r="2.6" fill="#0d0d0d" stroke="none" stroke-width="0" />
<rect x="345.1" y="515.1" width="2.2" height="2.1" fill="#fff" stroke="none" stroke-width="0" rx="0.7"/>
<circle cx="358.6" cy="516.2" r="3.0" fill="none" stroke="#0d0d0d" stroke-width="1.5" stroke-dasharray="2.3 0.85"/>
<circle cx="358.6" cy="516.2" r="2.6" fill="#0d0d0d" stroke="none" stroke-width="0" />
<rect x="357.5" y="515.1" width="2.2" height="2.1" fill="#fff" stroke="none" stroke-width="0" rx="0.7"/>
<text x="339.5" y="506.2" font-size="2.6" fill="#222" font-weight="bold" text-anchor="middle" >OFFICE 1</text>
<line x1="323.3" y1="526.0" x2="365.8" y2="526.0" stroke="#0d0d0d" stroke-width="1.35" />
<line x1="323.3" y1="526.0" x2="323.3" y2="559.0" stroke="#333" stroke-width="0.81" />
<rect x="339.5" y="536.7" width="24.2" height="9.2" fill="#fff" stroke="#0d0d0d" stroke-width="1.08" />
<line x1="351.6" y1="536.7" x2="351.6" y2="545.9" stroke="#0d0d0d" stroke-width="0.945" />
<line x1="339.5" y1="541.3" x2="363.7" y2="541.3" stroke="#0d0d0d" stroke-width="0.675" />
<rect x="339.5" y="564.6" width="24.2" height="12.4" fill="#fff" stroke="#0d0d0d" stroke-width="1.08" />
<line x1="351.6" y1="564.6" x2="351.6" y2="577.0" stroke="#0d0d0d" stroke-width="0.945" />
<line x1="339.5" y1="570.8" x2="363.7" y2="570.8" stroke="#0d0d0d" stroke-width="0.675" />
<circle cx="345.0" cy="532.4" r="3.0" fill="none" stroke="#0d0d0d" stroke-width="1.5" stroke-dasharray="2.3 0.85"/>
<circle cx="345.0" cy="532.4" r="2.6" fill="#0d0d0d" stroke="none" stroke-width="0" />
<rect x="343.9" y="531.2" width="2.2" height="2.1" fill="#fff" stroke="none" stroke-width="0" rx="0.7"/>
<circle cx="345.0" cy="549.8" r="3.0" fill="none" stroke="#0d0d0d" stroke-width="1.5" stroke-dasharray="2.3 0.85"/>
<circle cx="345.0" cy="549.8" r="2.6" fill="#0d0d0d" stroke="none" stroke-width="0" />
<rect x="343.9" y="548.6" width="2.2" height="2.1" fill="#fff" stroke="none" stroke-width="0" rx="0.7"/>
<circle cx="345.0" cy="560.9" r="3.0" fill="none" stroke="#0d0d0d" stroke-width="1.5" stroke-dasharray="2.3 0.85"/>
<circle cx="345.0" cy="560.9" r="2.6" fill="#0d0d0d" stroke="none" stroke-width="0" />
<rect x="343.9" y="559.8" width="2.2" height="2.1" fill="#fff" stroke="none" stroke-width="0" rx="0.7"/>
<circle cx="345.0" cy="580.4" r="3.0" fill="none" stroke="#0d0d0d" stroke-width="1.5" stroke-dasharray="2.3 0.85"/>
<circle cx="345.0" cy="580.4" r="2.6" fill="#0d0d0d" stroke="none" stroke-width="0" />
<rect x="343.9" y="579.2" width="2.2" height="2.1" fill="#fff" stroke="none" stroke-width="0" rx="0.7"/>
<circle cx="357.4" cy="532.4" r="3.0" fill="none" stroke="#0d0d0d" stroke-width="1.5" stroke-dasharray="2.3 0.85"/>
<circle cx="357.4" cy="532.4" r="2.6" fill="#0d0d0d" stroke="none" stroke-width="0" />
<rect x="356.3" y="531.2" width="2.2" height="2.1" fill="#fff" stroke="none" stroke-width="0" rx="0.7"/>
<circle cx="357.4" cy="549.8" r="3.0" fill="none" stroke="#0d0d0d" stroke-width="1.5" stroke-dasharray="2.3 0.85"/>
<circle cx="357.4" cy="549.8" r="2.6" fill="#0d0d0d" stroke="none" stroke-width="0" />
<rect x="356.3" y="548.6" width="2.2" height="2.1" fill="#fff" stroke="none" stroke-width="0" rx="0.7"/>
<circle cx="357.4" cy="560.9" r="3.0" fill="none" stroke="#0d0d0d" stroke-width="1.5" stroke-dasharray="2.3 0.85"/>
<circle cx="357.4" cy="560.9" r="2.6" fill="#0d0d0d" stroke="none" stroke-width="0" />
<rect x="356.3" y="559.8" width="2.2" height="2.1" fill="#fff" stroke="none" stroke-width="0" rx="0.7"/>
<circle cx="357.4" cy="580.4" r="3.0" fill="none" stroke="#0d0d0d" stroke-width="1.5" stroke-dasharray="2.3 0.85"/>
<circle cx="357.4" cy="580.4" r="2.6" fill="#0d0d0d" stroke="none" stroke-width="0" />
<rect x="356.3" y="579.2" width="2.2" height="2.1" fill="#fff" stroke="none" stroke-width="0" rx="0.7"/>
<text x="333.4" y="555.0" font-size="2.6" fill="#222" font-weight="bold" text-anchor="middle" >OFFICE 2</text>
<line x1="323.3" y1="570.6" x2="364.4" y2="570.6" stroke="#0d0d0d" stroke-width="3.0" />
<path d="M323.6,560.2 A9.0,9.0 0 0 1 332.6,569.2" fill="none" stroke="#222" stroke-width="0.6" />
<path d="M332.6,572.0 A9.0,9.0 0 0 1 323.6,581.0" fill="none" stroke="#222" stroke-width="0.6" />
<line x1="324.0" y1="593.0" x2="324.0" y2="611.6" stroke="#0d0d0d" stroke-width="1.08" />
<rect x="339.6" y="589.7" width="10.8" height="21.6" fill="#fff" stroke="#0d0d0d" stroke-width="1.08" />
<line x1="344.9" y1="589.7" x2="344.9" y2="611.3" stroke="#0d0d0d" stroke-width="0.945" />
<line x1="339.6" y1="601.0" x2="350.4" y2="601.0" stroke="#0d0d0d" stroke-width="0.945" />
<circle cx="336.2" cy="595.8" r="3.0" fill="none" stroke="#0d0d0d" stroke-width="1.5" stroke-dasharray="2.3 0.85"/>
<circle cx="336.2" cy="595.8" r="2.6" fill="#0d0d0d" stroke="none" stroke-width="0" />
<rect x="335.1" y="594.6" width="2.2" height="2.1" fill="#fff" stroke="none" stroke-width="0" rx="0.7"/>
<circle cx="353.8" cy="595.8" r="3.0" fill="none" stroke="#0d0d0d" stroke-width="1.5" stroke-dasharray="2.3 0.85"/>
<circle cx="353.8" cy="595.8" r="2.6" fill="#0d0d0d" stroke="none" stroke-width="0" />
<rect x="352.7" y="594.6" width="2.2" height="2.1" fill="#fff" stroke="none" stroke-width="0" rx="0.7"/>
<circle cx="336.2" cy="607.4" r="3.0" fill="none" stroke="#0d0d0d" stroke-width="1.5" stroke-dasharray="2.3 0.85"/>
<circle cx="336.2" cy="607.4" r="2.6" fill="#0d0d0d" stroke="none" stroke-width="0" />
<rect x="335.1" y="606.2" width="2.2" height="2.1" fill="#fff" stroke="none" stroke-width="0" rx="0.7"/>
<circle cx="353.8" cy="607.4" r="3.0" fill="none" stroke="#0d0d0d" stroke-width="1.5" stroke-dasharray="2.3 0.85"/>
<circle cx="353.8" cy="607.4" r="2.6" fill="#0d0d0d" stroke="none" stroke-width="0" />
<rect x="352.7" y="606.2" width="2.2" height="2.1" fill="#fff" stroke="none" stroke-width="0" rx="0.7"/>
<text x="332.6" y="586.2" font-size="2.6" fill="#222" font-weight="bold" text-anchor="middle" >OFFICE 3</text>
<line x1="287.0" y1="586.2" x2="318.0" y2="586.2" stroke="#222" stroke-width="0.945" />
<rect x="288.2" y="586.6" width="22.6" height="4.0" fill="#fff" stroke="#0d0d0d" stroke-width="0.945" />
<rect x="287.2" y="608.2" width="36.0" height="4.2" fill="#fff" stroke="#0d0d0d" stroke-width="1.08" />
<line x1="299.0" y1="608.2" x2="299.0" y2="612.4" stroke="#0d0d0d" stroke-width="0.81" />
<line x1="311.0" y1="608.2" x2="311.0" y2="612.4" stroke="#0d0d0d" stroke-width="0.81" />
<circle cx="292.7" cy="595.0" r="3.0" fill="none" stroke="#0d0d0d" stroke-width="1.5" stroke-dasharray="2.3 0.85"/>
<circle cx="292.7" cy="595.0" r="2.6" fill="#0d0d0d" stroke="none" stroke-width="0" />
<rect x="291.6" y="593.9" width="2.2" height="2.1" fill="#fff" stroke="none" stroke-width="0" rx="0.7"/>
<circle cx="304.6" cy="595.0" r="3.0" fill="none" stroke="#0d0d0d" stroke-width="1.5" stroke-dasharray="2.3 0.85"/>
<circle cx="304.6" cy="595.0" r="2.6" fill="#0d0d0d" stroke="none" stroke-width="0" />
<rect x="303.5" y="593.9" width="2.2" height="2.1" fill="#fff" stroke="none" stroke-width="0" rx="0.7"/>
<circle cx="292.7" cy="604.4" r="3.0" fill="none" stroke="#0d0d0d" stroke-width="1.5" stroke-dasharray="2.3 0.85"/>
<circle cx="292.7" cy="604.4" r="2.6" fill="#0d0d0d" stroke="none" stroke-width="0" />
<rect x="291.6" y="603.2" width="2.2" height="2.1" fill="#fff" stroke="none" stroke-width="0" rx="0.7"/>
<circle cx="304.6" cy="604.4" r="3.0" fill="none" stroke="#0d0d0d" stroke-width="1.5" stroke-dasharray="2.3 0.85"/>
<circle cx="304.6" cy="604.4" r="2.6" fill="#0d0d0d" stroke="none" stroke-width="0" />
<rect x="303.5" y="603.2" width="2.2" height="2.1" fill="#fff" stroke="none" stroke-width="0" rx="0.7"/>
<circle cx="316.6" cy="604.4" r="3.0" fill="none" stroke="#0d0d0d" stroke-width="1.5" stroke-dasharray="2.3 0.85"/>
<circle cx="316.6" cy="604.4" r="2.6" fill="#0d0d0d" stroke="none" stroke-width="0" />
<rect x="315.5" y="603.2" width="2.2" height="2.1" fill="#fff" stroke="none" stroke-width="0" rx="0.7"/>
<text x="316.6" y="598.2" font-size="2.6" fill="#222" font-weight="bold" text-anchor="middle" >OFFICE 4</text>
<path d="M322.0,593.6 A8.6,8.6 0 0 1 313.4,585.0" fill="none" stroke="#222" stroke-width="0.6" />
<line x1="322.9" y1="585.2" x2="322.9" y2="593.2" stroke="#0d0d0d" stroke-width="2.8" />
<text x="297.7" y="539.8" font-size="2.6" fill="#222" font-weight="bold" text-anchor="middle" >KITCHEN</text>
<rect x="292.2" y="542.2" width="11.2" height="19.9" fill="#fff" stroke="#0d0d0d" stroke-width="1.215" />
<line x1="297.7" y1="542.2" x2="297.7" y2="562.1" stroke="#0d0d0d" stroke-width="0.945" />
<rect x="288.0" y="546.6" width="3.4" height="3.6" fill="#fff" stroke="#0d0d0d" stroke-width="0.945" />
<rect x="304.2" y="546.6" width="3.4" height="3.6" fill="#fff" stroke="#0d0d0d" stroke-width="0.945" />
<rect x="288.0" y="555.4" width="3.4" height="3.6" fill="#fff" stroke="#0d0d0d" stroke-width="0.945" />
<rect x="304.2" y="555.4" width="3.4" height="3.6" fill="#fff" stroke="#0d0d0d" stroke-width="0.945" />
<path d="M287.0,568.0 L296.0,568.0" fill="none" stroke="#0d0d0d" stroke-width="0.81" />
<path d="M285.6,581.8 L302.8,581.8 L302.8,569.5" fill="none" stroke="#0d0d0d" stroke-width="0.945" />
<path d="M300.8,581.0 L303.0,573.0" fill="none" stroke="#0d0d0d" stroke-width="0.81" />
<text x="296.0" y="576.0" font-size="2.6" fill="#222" font-weight="bold" text-anchor="middle" >JAN.</text>
<text x="296.0" y="578.4" font-size="2.6" fill="#222" font-weight="bold" text-anchor="middle" >CL.</text>
<path d="M286.0,574.4 A8.4,8.4 0 0 1 277.6,566.0" fill="none" stroke="#222" stroke-width="0.6" />
<path d="M269.6,555.4 A9.0,9.0 0 0 1 278.6,564.4" fill="none" stroke="#222" stroke-width="0.6" />
<rect x="301.0" y="567.6" width="3.6" height="3.6" fill="#555" stroke="#0d0d0d" stroke-width="0.675" />
<text transform="translate(319.4,582.1) rotate(-90)" font-size="13.4" fill="#3d4650" textLength="52.8" lengthAdjust="spacingAndGlyphs">SUITE 560</text>
<path d="M46.2,482.0 L55.5,473.2 L66.1,473.2 L66.1,485.0 L57.5,485.0 L57.5,492.4 L46.2,492.4 Z" fill="#0b0b0b" stroke="none" stroke-width="0" />
<rect x="153.8" y="471.2" width="13.2" height="13.7" fill="#0b0b0b" stroke="none" stroke-width="0" />
<rect x="255.3" y="471.2" width="13.2" height="13.7" fill="#0b0b0b" stroke="none" stroke-width="0" />
<path d="M356.9,473.7 L366.5,473.7 L375.6,482.4 L375.6,492.4 L365.0,492.4 L365.0,485.0 L356.9,485.0 Z" fill="#0b0b0b" stroke="none" stroke-width="0" />
<rect x="44.2" y="579.6" width="13.2" height="14.2" fill="#0b0b0b" stroke="none" stroke-width="0" />
<rect x="365.6" y="579.6" width="11.3" height="14.2" fill="#0b0b0b" stroke="none" stroke-width="0" />
<line x1="158.8" y1="484.9" x2="163.3" y2="477.2" stroke="#cfcfcf" stroke-width="0.55" />
<line x1="161.8" y1="484.9" x2="166.3" y2="477.2" stroke="#cfcfcf" stroke-width="0.55" />
<line x1="164.8" y1="484.9" x2="169.3" y2="477.2" stroke="#cfcfcf" stroke-width="0.55" />
<line x1="49.2" y1="593.3" x2="53.7" y2="585.6" stroke="#cfcfcf" stroke-width="0.55" />
<line x1="52.2" y1="593.3" x2="56.7" y2="585.6" stroke="#cfcfcf" stroke-width="0.55" />
<line x1="55.2" y1="593.3" x2="59.7" y2="585.6" stroke="#cfcfcf" stroke-width="0.55" />
<path d="M226.6,480.0 L367.7,480.0 L367.7,613.3 L285.8,613.3 L285.8,585.2 L305.9,585.2 L305.9,565.1 L269.1,565.1 L269.1,542.5 L226.6,542.5 Z" fill="none" stroke="#1d8b2f" stroke-width="3.7" stroke-linejoin="miter"/>
<path d="M226.6,480.0 L367.7,480.0 L367.7,613.3 L285.8,613.3 L285.8,585.2 L305.9,585.2 L305.9,565.1 L269.1,565.1 L269.1,542.5 L226.6,542.5 Z" fill="none" stroke="#0c5419" stroke-width="1.0" stroke-dasharray="3.2 1.6" opacity="0.7"/>
<g opacity="0.62">
<path d="M46.2,482.0 L55.5,473.2 L66.1,473.2 L66.1,485.0 L57.5,485.0 L57.5,492.4 L46.2,492.4 Z" fill="#0b0b0b" stroke="none" stroke-width="0" />
<rect x="153.8" y="471.2" width="13.2" height="13.7" fill="#0b0b0b" stroke="none" stroke-width="0" />
<rect x="255.3" y="471.2" width="13.2" height="13.7" fill="#0b0b0b" stroke="none" stroke-width="0" />
<path d="M356.9,473.7 L366.5,473.7 L375.6,482.4 L375.6,492.4 L365.0,492.4 L365.0,485.0 L356.9,485.0 Z" fill="#0b0b0b" stroke="none" stroke-width="0" />
<rect x="44.2" y="579.6" width="13.2" height="14.2" fill="#0b0b0b" stroke="none" stroke-width="0" />
<rect x="365.6" y="579.6" width="11.3" height="14.2" fill="#0b0b0b" stroke="none" stroke-width="0" />
<line x1="158.8" y1="484.9" x2="163.3" y2="477.2" stroke="#cfcfcf" stroke-width="0.55" />
<line x1="161.8" y1="484.9" x2="166.3" y2="477.2" stroke="#cfcfcf" stroke-width="0.55" />
<line x1="164.8" y1="484.9" x2="169.3" y2="477.2" stroke="#cfcfcf" stroke-width="0.55" />
<line x1="49.2" y1="593.3" x2="53.7" y2="585.6" stroke="#cfcfcf" stroke-width="0.55" />
<line x1="52.2" y1="593.3" x2="56.7" y2="585.6" stroke="#cfcfcf" stroke-width="0.55" />
<line x1="55.2" y1="593.3" x2="59.7" y2="585.6" stroke="#cfcfcf" stroke-width="0.55" />
</g>
<clipPath id="hc4"><path d="M48.1,679.5 L371.9,679.5 L371.9,842.1 L48.1,842.1 Z"/></clipPath>
<path d="M48.1,679.5 L371.9,679.5 L371.9,842.1 L48.1,842.1 Z" fill="#fbfbfc"/>
<path clip-path="url(#hc4)" d="M-119.90,843.1l164.6,-164.6M-116.50,843.1l164.6,-164.6M-113.10,843.1l164.6,-164.6M-109.70,843.1l164.6,-164.6M-106.30,843.1l164.6,-164.6M-102.90,843.1l164.6,-164.6M-99.50,843.1l164.6,-164.6M-96.10,843.1l164.6,-164.6M-92.70,843.1l164.6,-164.6M-89.30,843.1l164.6,-164.6M-85.90,843.1l164.6,-164.6M-82.50,843.1l164.6,-164.6M-79.10,843.1l164.6,-164.6M-75.70,843.1l164.6,-164.6M-72.30,843.1l164.6,-164.6M-68.90,843.1l164.6,-164.6M-65.50,843.1l164.6,-164.6M-62.10,843.1l164.6,-164.6M-58.70,843.1l164.6,-164.6M-55.30,843.1l164.6,-164.6M-51.90,843.1l164.6,-164.6M-48.50,843.1l164.6,-164.6M-45.10,843.1l164.6,-164.6M-41.70,843.1l164.6,-164.6M-38.30,843.1l164.6,-164.6M-34.90,843.1l164.6,-164.6M-31.50,843.1l164.6,-164.6M-28.10,843.1l164.6,-164.6M-24.70,843.1l164.6,-164.6M-21.30,843.1l164.6,-164.6M-17.90,843.1l164.6,-164.6M-14.50,843.1l164.6,-164.6M-11.10,843.1l164.6,-164.6M-7.70,843.1l164.6,-164.6M-4.30,843.1l164.6,-164.6M-0.90,843.1l164.6,-164.6M2.50,843.1l164.6,-164.6M5.90,843.1l164.6,-164.6M9.30,843.1l164.6,-164.6M12.70,843.1l164.6,-164.6M16.10,843.1l164.6,-164.6M19.50,843.1l164.6,-164.6M22.90,843.1l164.6,-164.6M26.30,843.1l164.6,-164.6M29.70,843.1l164.6,-164.6M33.10,843.1l164.6,-164.6M36.50,843.1l164.6,-164.6M39.90,843.1l164.6,-164.6M43.30,843.1l164.6,-164.6M46.70,843.1l164.6,-164.6M50.10,843.1l164.6,-164.6M53.50,843.1l164.6,-164.6M56.90,843.1l164.6,-164.6M60.30,843.1l164.6,-164.6M63.70,843.1l164.6,-164.6M67.10,843.1l164.6,-164.6M70.50,843.1l164.6,-164.6M73.90,843.1l164.6,-164.6M77.30,843.1l164.6,-164.6M80.70,843.1l164.6,-164.6M84.10,843.1l164.6,-164.6M87.50,843.1l164.6,-164.6M90.90,843.1l164.6,-164.6M94.30,843.1l164.6,-164.6M97.70,843.1l164.6,-164.6M101.10,843.1l164.6,-164.6M104.50,843.1l164.6,-164.6M107.90,843.1l164.6,-164.6M111.30,843.1l164.6,-164.6M114.70,843.1l164.6,-164.6M118.10,843.1l164.6,-164.6M121.50,843.1l164.6,-164.6M124.90,843.1l164.6,-164.6M128.30,843.1l164.6,-164.6M131.70,843.1l164.6,-164.6M135.10,843.1l164.6,-164.6M138.50,843.1l164.6,-164.6M141.90,843.1l164.6,-164.6M145.30,843.1l164.6,-164.6M148.70,843.1l164.6,-164.6M152.10,843.1l164.6,-164.6M155.50,843.1l164.6,-164.6M158.90,843.1l164.6,-164.6M162.30,843.1l164.6,-164.6M165.70,843.1l164.6,-164.6M169.10,843.1l164.6,-164.6M172.50,843.1l164.6,-164.6M175.90,843.1l164.6,-164.6M179.30,843.1l164.6,-164.6M182.70,843.1l164.6,-164.6M186.10,843.1l164.6,-164.6M189.50,843.1l164.6,-164.6M192.90,843.1l164.6,-164.6M196.30,843.1l164.6,-164.6M199.70,843.1l164.6,-164.6M203.10,843.1l164.6,-164.6M206.50,843.1l164.6,-164.6M209.90,843.1l164.6,-164.6M213.30,843.1l164.6,-164.6M216.70,843.1l164.6,-164.6M220.10,843.1l164.6,-164.6M223.50,843.1l164.6,-164.6M226.90,843.1l164.6,-164.6M230.30,843.1l164.6,-164.6M233.70,843.1l164.6,-164.6M237.10,843.1l164.6,-164.6M240.50,843.1l164.6,-164.6M243.90,843.1l164.6,-164.6M247.30,843.1l164.6,-164.6M250.70,843.1l164.6,-164.6M254.10,843.1l164.6,-164.6M257.50,843.1l164.6,-164.6M260.90,843.1l164.6,-164.6M264.30,843.1l164.6,-164.6M267.70,843.1l164.6,-164.6M271.10,843.1l164.6,-164.6M274.50,843.1l164.6,-164.6M277.90,843.1l164.6,-164.6M281.30,843.1l164.6,-164.6M284.70,843.1l164.6,-164.6M288.10,843.1l164.6,-164.6M291.50,843.1l164.6,-164.6M294.90,843.1l164.6,-164.6M298.30,843.1l164.6,-164.6M301.70,843.1l164.6,-164.6M305.10,843.1l164.6,-164.6M308.50,843.1l164.6,-164.6M311.90,843.1l164.6,-164.6M315.30,843.1l164.6,-164.6M318.70,843.1l164.6,-164.6M322.10,843.1l164.6,-164.6M325.50,843.1l164.6,-164.6M328.90,843.1l164.6,-164.6M332.30,843.1l164.6,-164.6M335.70,843.1l164.6,-164.6M339.10,843.1l164.6,-164.6M342.50,843.1l164.6,-164.6M345.90,843.1l164.6,-164.6M349.30,843.1l164.6,-164.6M352.70,843.1l164.6,-164.6M356.10,843.1l164.6,-164.6M359.50,843.1l164.6,-164.6M362.90,843.1l164.6,-164.6M366.30,843.1l164.6,-164.6M369.70,843.1l164.6,-164.6M373.10,843.1l164.6,-164.6" stroke="#8a8a8a" stroke-width="0.85" fill="none"/>
<clipPath id="hc5"><path d="M57.2,687.9 L225.5,687.9 L225.5,744.2 L268.0,744.2 L268.0,766.4 L160.0,766.4 L160.0,783.5 L171.0,783.5 L173.0,842.1 L57.2,842.1 Z"/></clipPath>
<path d="M57.2,687.9 L225.5,687.9 L225.5,744.2 L268.0,744.2 L268.0,766.4 L160.0,766.4 L160.0,783.5 L171.0,783.5 L173.0,842.1 L57.2,842.1 Z" fill="#b3b7bb"/>
<path clip-path="url(#hc5)" d="M-103.30,843.1l156.2,-156.2M-99.00,843.1l156.2,-156.2M-94.70,843.1l156.2,-156.2M-90.40,843.1l156.2,-156.2M-86.10,843.1l156.2,-156.2M-81.80,843.1l156.2,-156.2M-77.50,843.1l156.2,-156.2M-73.20,843.1l156.2,-156.2M-68.90,843.1l156.2,-156.2M-64.60,843.1l156.2,-156.2M-60.30,843.1l156.2,-156.2M-56.00,843.1l156.2,-156.2M-51.70,843.1l156.2,-156.2M-47.40,843.1l156.2,-156.2M-43.10,843.1l156.2,-156.2M-38.80,843.1l156.2,-156.2M-34.50,843.1l156.2,-156.2M-30.20,843.1l156.2,-156.2M-25.90,843.1l156.2,-156.2M-21.60,843.1l156.2,-156.2M-17.30,843.1l156.2,-156.2M-13.00,843.1l156.2,-156.2M-8.70,843.1l156.2,-156.2M-4.40,843.1l156.2,-156.2M-0.10,843.1l156.2,-156.2M4.20,843.1l156.2,-156.2M8.50,843.1l156.2,-156.2M12.80,843.1l156.2,-156.2M17.10,843.1l156.2,-156.2M21.40,843.1l156.2,-156.2M25.70,843.1l156.2,-156.2M30.00,843.1l156.2,-156.2M34.30,843.1l156.2,-156.2M38.60,843.1l156.2,-156.2M42.90,843.1l156.2,-156.2M47.20,843.1l156.2,-156.2M51.50,843.1l156.2,-156.2M55.80,843.1l156.2,-156.2M60.10,843.1l156.2,-156.2M64.40,843.1l156.2,-156.2M68.70,843.1l156.2,-156.2M73.00,843.1l156.2,-156.2M77.30,843.1l156.2,-156.2M81.60,843.1l156.2,-156.2M85.90,843.1l156.2,-156.2M90.20,843.1l156.2,-156.2M94.50,843.1l156.2,-156.2M98.80,843.1l156.2,-156.2M103.10,843.1l156.2,-156.2M107.40,843.1l156.2,-156.2M111.70,843.1l156.2,-156.2M116.00,843.1l156.2,-156.2M120.30,843.1l156.2,-156.2M124.60,843.1l156.2,-156.2M128.90,843.1l156.2,-156.2M133.20,843.1l156.2,-156.2M137.50,843.1l156.2,-156.2M141.80,843.1l156.2,-156.2M146.10,843.1l156.2,-156.2M150.40,843.1l156.2,-156.2M154.70,843.1l156.2,-156.2M159.00,843.1l156.2,-156.2M163.30,843.1l156.2,-156.2M167.60,843.1l156.2,-156.2M171.90,843.1l156.2,-156.2M176.20,843.1l156.2,-156.2M180.50,843.1l156.2,-156.2M184.80,843.1l156.2,-156.2M189.10,843.1l156.2,-156.2M193.40,843.1l156.2,-156.2M197.70,843.1l156.2,-156.2M202.00,843.1l156.2,-156.2M206.30,843.1l156.2,-156.2M210.60,843.1l156.2,-156.2M214.90,843.1l156.2,-156.2M219.20,843.1l156.2,-156.2M223.50,843.1l156.2,-156.2M227.80,843.1l156.2,-156.2M232.10,843.1l156.2,-156.2M236.40,843.1l156.2,-156.2M240.70,843.1l156.2,-156.2M245.00,843.1l156.2,-156.2M249.30,843.1l156.2,-156.2M253.60,843.1l156.2,-156.2M257.90,843.1l156.2,-156.2M262.20,843.1l156.2,-156.2M266.50,843.1l156.2,-156.2M270.80,843.1l156.2,-156.2" stroke="#696c6f" stroke-width="1.12" fill="none"/>
<text x="95.2" y="741.2" font-size="15.6" fill="#fff" font-weight="bold" textLength="56.3" lengthAdjust="spacingAndGlyphs" >LEASED</text>
<path d="M226.2,684.2 L369.5,684.2 L369.5,816.0 L285.3,816.0 L285.3,788.8 L305.6,788.8 L305.6,765.5 L268.0,765.5 L268.0,745.2 L226.2,745.2 Z" fill="#fcfdfd" stroke="none" stroke-width="0" />
<rect x="262.0" y="767.1" width="24.3" height="9.6" fill="#f7f8f9" stroke="none" stroke-width="0" opacity="0.95"/>
<rect x="285.9" y="767.1" width="18.1" height="20.1" fill="#fcfdfd" stroke="none" stroke-width="0" />
<clipPath id="clipB"><rect x="0" y="0" width="371.9" height="842.1"/></clipPath>
<g clip-path="url(#clipB)"><g transform="translate(19.73,628.04) scale(0.9125,0.901)">
<path d="M269.5,152.6 L152.5,152.6 L152.5,171.6 L162.0,171.6 L162.0,300.8" fill="none" stroke="#0d0d0d" stroke-width="2.0" stroke-dasharray="3.4 1.6"/>
<path d="M269.5,155.6 L155.6,155.6 L155.6,168.8 L164.4,168.8" fill="none" stroke="#0d0d0d" stroke-width="0.7" stroke-dasharray="2 1.5"/>
<path d="M152.5,170.6 L183.0,170.6" fill="none" stroke="url(#wallH)" stroke-width="4.2" />
<line x1="163.8" y1="171.0" x2="166.4" y2="300.0" stroke="url(#wallH)" stroke-width="3.0" />
<line x1="166.5" y1="171.0" x2="173.0" y2="300.0" stroke="#0d0d0d" stroke-width="0.8" stroke-dasharray="3.4 1.6"/>
<line x1="180.5" y1="171.0" x2="173.0" y2="300.0" stroke="#0d0d0d" stroke-width="0.8" stroke-dasharray="3.4 1.6"/>
<line x1="182.0" y1="172.0" x2="182.0" y2="300.0" stroke="url(#wallH)" stroke-width="2.8" />
<line x1="212.2" y1="169.0" x2="212.2" y2="300.0" stroke="url(#wallH)" stroke-width="3.2" />
<path d="M191.6,169.4 L191.6,190.8" fill="none" stroke="#0d0d0d" stroke-width="2.6" stroke-dasharray="3.4 1.6"/>
<line x1="191.6" y1="191.6" x2="212.0" y2="191.6" stroke="url(#wallH)" stroke-width="3.6" />
<text x="199.5" y="180.5" font-size="3.2" fill="#333" font-weight="bold" >ELEC.</text>
<path d="M183,176 q5,-1 6,5 M191,182 q4,3 2,7" fill="none" stroke="#222" stroke-width="0.7" />
<text x="189.0" y="204.6" font-size="3.0" fill="#222" font-weight="bold" >WOMEN'S</text>
<line x1="182.5" y1="209.0" x2="186.1" y2="221.5" stroke="#0d0d0d" stroke-width="0.8" />
<line x1="189.7" y1="209.0" x2="186.1" y2="221.5" stroke="#0d0d0d" stroke-width="0.8" />
<line x1="189.7" y1="209.0" x2="193.3" y2="221.5" stroke="#0d0d0d" stroke-width="0.8" />
<line x1="196.9" y1="209.0" x2="193.3" y2="221.5" stroke="#0d0d0d" stroke-width="0.8" />
<line x1="196.9" y1="209.0" x2="200.5" y2="221.5" stroke="#0d0d0d" stroke-width="0.8" />
<line x1="204.1" y1="209.0" x2="200.5" y2="221.5" stroke="#0d0d0d" stroke-width="0.8" />
<line x1="204.1" y1="209.0" x2="207.7" y2="221.5" stroke="#0d0d0d" stroke-width="0.8" />
<line x1="211.3" y1="209.0" x2="207.7" y2="221.5" stroke="#0d0d0d" stroke-width="0.8" />
<line x1="182.0" y1="207.5" x2="212.0" y2="207.5" stroke="#0d0d0d" stroke-width="0.8" stroke-dasharray="2 1.5"/>
<line x1="181.6" y1="227.6" x2="212.2" y2="227.6" stroke="url(#wallH)" stroke-width="6.0" />
<line x1="182.5" y1="229.5" x2="186.1" y2="243.0" stroke="#0d0d0d" stroke-width="0.8" />
<line x1="189.7" y1="229.5" x2="186.1" y2="243.0" stroke="#0d0d0d" stroke-width="0.8" />
<line x1="189.7" y1="229.5" x2="193.3" y2="243.0" stroke="#0d0d0d" stroke-width="0.8" />
<line x1="196.9" y1="229.5" x2="193.3" y2="243.0" stroke="#0d0d0d" stroke-width="0.8" />
<line x1="196.9" y1="229.5" x2="200.5" y2="243.0" stroke="#0d0d0d" stroke-width="0.8" />
<line x1="204.1" y1="229.5" x2="200.5" y2="243.0" stroke="#0d0d0d" stroke-width="0.8" />
<line x1="204.1" y1="229.5" x2="207.7" y2="243.0" stroke="#0d0d0d" stroke-width="0.8" />
<line x1="211.3" y1="229.5" x2="207.7" y2="243.0" stroke="#0d0d0d" stroke-width="0.8" />
<text x="191.0" y="251.0" font-size="3.0" fill="#222" font-weight="bold" >MEN'S</text>
<rect x="235.6" y="170.8" width="26.8" height="131.0" fill="none" stroke="url(#wallH)" stroke-width="4.0" />
<rect x="239.8" y="197.8" width="19.6" height="17.4" fill="none" stroke="#0d0d0d" stroke-width="1.0" stroke-dasharray="5 1.5"/>
<line x1="239.8" y1="197.8" x2="259.4" y2="215.2" stroke="#0d0d0d" stroke-width="0.8" />
<line x1="259.4" y1="197.8" x2="239.8" y2="215.2" stroke="#0d0d0d" stroke-width="0.8" />
<rect x="239.8" y="223.6" width="19.6" height="17.4" fill="none" stroke="#0d0d0d" stroke-width="1.0" stroke-dasharray="5 1.5"/>
<line x1="239.8" y1="223.6" x2="259.4" y2="241.0" stroke="#0d0d0d" stroke-width="0.8" />
<line x1="259.4" y1="223.6" x2="239.8" y2="241.0" stroke="#0d0d0d" stroke-width="0.8" />
<rect x="239.8" y="249.7" width="19.6" height="17.4" fill="none" stroke="#0d0d0d" stroke-width="1.0" stroke-dasharray="5 1.5"/>
<line x1="239.8" y1="249.7" x2="259.4" y2="267.1" stroke="#0d0d0d" stroke-width="0.8" />
<line x1="259.4" y1="249.7" x2="239.8" y2="267.1" stroke="#0d0d0d" stroke-width="0.8" />
<rect x="277.4" y="170.6" width="11.8" height="22.6" fill="none" stroke="url(#wallH)" stroke-width="3.0" />
<line x1="278.5" y1="171.0" x2="288.4" y2="192.0" stroke="#0d0d0d" stroke-width="0.8" />
<line x1="288.4" y1="171.0" x2="278.5" y2="192.0" stroke="#0d0d0d" stroke-width="0.8" />
<line x1="265.4" y1="206.4" x2="288.8" y2="206.4" stroke="#0d0d0d" stroke-width="1.2" stroke-dasharray="3 1.0"/>
<line x1="265.4" y1="209.0" x2="288.8" y2="209.0" stroke="#0d0d0d" stroke-width="1.2" stroke-dasharray="3 1.0"/>
<line x1="265.4" y1="211.5" x2="288.8" y2="211.5" stroke="#0d0d0d" stroke-width="1.2" stroke-dasharray="3 1.0"/>
<line x1="265.4" y1="214.1" x2="288.8" y2="214.1" stroke="#0d0d0d" stroke-width="1.2" stroke-dasharray="3 1.0"/>
<line x1="265.4" y1="216.6" x2="288.8" y2="216.6" stroke="#0d0d0d" stroke-width="1.2" stroke-dasharray="3 1.0"/>
<line x1="265.4" y1="219.2" x2="288.8" y2="219.2" stroke="#0d0d0d" stroke-width="1.2" stroke-dasharray="3 1.0"/>
<line x1="265.4" y1="221.7" x2="288.8" y2="221.7" stroke="#0d0d0d" stroke-width="1.2" stroke-dasharray="3 1.0"/>
<line x1="265.4" y1="224.2" x2="288.8" y2="224.2" stroke="#0d0d0d" stroke-width="1.2" stroke-dasharray="3 1.0"/>
<line x1="265.4" y1="226.8" x2="288.8" y2="226.8" stroke="#0d0d0d" stroke-width="1.2" stroke-dasharray="3 1.0"/>
<line x1="265.4" y1="229.3" x2="288.8" y2="229.3" stroke="#0d0d0d" stroke-width="1.2" stroke-dasharray="3 1.0"/>
<line x1="265.4" y1="231.9" x2="288.8" y2="231.9" stroke="#0d0d0d" stroke-width="1.2" stroke-dasharray="3 1.0"/>
<line x1="265.4" y1="234.4" x2="288.8" y2="234.4" stroke="#0d0d0d" stroke-width="1.2" stroke-dasharray="3 1.0"/>
<line x1="265.4" y1="237.0" x2="288.8" y2="237.0" stroke="#0d0d0d" stroke-width="1.2" stroke-dasharray="3 1.0"/>
<line x1="265.4" y1="239.6" x2="288.8" y2="239.6" stroke="#0d0d0d" stroke-width="1.2" stroke-dasharray="3 1.0"/>
<line x1="265.4" y1="242.1" x2="288.8" y2="242.1" stroke="#0d0d0d" stroke-width="1.2" stroke-dasharray="3 1.0"/>
<line x1="265.4" y1="244.7" x2="288.8" y2="244.7" stroke="#0d0d0d" stroke-width="1.2" stroke-dasharray="3 1.0"/>
<line x1="265.4" y1="247.2" x2="288.8" y2="247.2" stroke="#0d0d0d" stroke-width="1.2" stroke-dasharray="3 1.0"/>
<line x1="265.4" y1="249.8" x2="288.8" y2="249.8" stroke="#0d0d0d" stroke-width="1.2" stroke-dasharray="3 1.0"/>
<line x1="265.4" y1="252.3" x2="288.8" y2="252.3" stroke="#0d0d0d" stroke-width="1.2" stroke-dasharray="3 1.0"/>
<line x1="265.4" y1="254.8" x2="288.8" y2="254.8" stroke="#0d0d0d" stroke-width="1.2" stroke-dasharray="3 1.0"/>
<line x1="265.4" y1="257.4" x2="288.8" y2="257.4" stroke="#0d0d0d" stroke-width="1.2" stroke-dasharray="3 1.0"/>
<line x1="277.0" y1="205.5" x2="277.0" y2="259.0" stroke="#0d0d0d" stroke-width="1.6" stroke-dasharray="3.4 1.6"/>
<line x1="265.2" y1="205.5" x2="265.2" y2="259.0" stroke="#0d0d0d" stroke-width="0.8" stroke-dasharray="3.4 1.6"/>
<path d="M244,169 q-1,8 -9,9 M265,169 q1,8 10,9" fill="none" stroke="#222" stroke-width="0.7" />
<line x1="292.7" y1="219.5" x2="297.5" y2="219.5" stroke="#0d0d0d" stroke-width="1.0" stroke-dasharray="2.6 1.3"/>
<line x1="297.5" y1="219.5" x2="297.5" y2="233.6" stroke="#0d0d0d" stroke-width="1.0" stroke-dasharray="2.6 1.3"/>
<line x1="292.7" y1="233.6" x2="309.2" y2="233.6" stroke="#0d0d0d" stroke-width="1.0" stroke-dasharray="2.6 1.3"/>
<rect x="309.2" y="231.1" width="5.4" height="6.2" fill="none" stroke="#0d0d0d" stroke-width="1.0" stroke-dasharray="2 1"/>
<circle cx="302.4" cy="231.1" r="2.3" fill="#444" stroke="none" stroke-width="0" />
<line x1="292.7" y1="238.3" x2="314.9" y2="238.3" stroke="#0d0d0d" stroke-width="1.0" stroke-dasharray="2.6 1.3"/>
<line x1="297.5" y1="238.3" x2="297.5" y2="252.4" stroke="#0d0d0d" stroke-width="1.0" stroke-dasharray="2.6 1.3"/>
<line x1="292.7" y1="252.4" x2="309.2" y2="252.4" stroke="#0d0d0d" stroke-width="1.0" stroke-dasharray="2.6 1.3"/>
<rect x="309.2" y="249.9" width="5.4" height="6.2" fill="none" stroke="#0d0d0d" stroke-width="1.0" stroke-dasharray="2 1"/>
<circle cx="302.4" cy="249.9" r="2.3" fill="#444" stroke="none" stroke-width="0" />
<line x1="339.6" y1="211.5" x2="339.6" y2="231.0" stroke="#0d0d0d" stroke-width="1.2" stroke-dasharray="2.6 1.3"/>
<path d="M339.6,231.0 A8.5,8.5 0 0 1 348.0,239.5" fill="none" stroke="#0d0d0d" stroke-width="1.0" />
<line x1="339.0" y1="240.6" x2="384.5" y2="240.6" stroke="#0d0d0d" stroke-width="2.4" stroke-dasharray="3.0 1.4"/>
<path d="M353.2,211.5 L353.2,229.0 L362.5,229.0" fill="none" stroke="#0d0d0d" stroke-width="1.0" stroke-dasharray="2.6 1.3"/>
<line x1="362.5" y1="215.4" x2="372.6" y2="215.4" stroke="#0d0d0d" stroke-width="1.0" stroke-dasharray="2.6 1.3"/>
<line x1="372.6" y1="211.5" x2="372.6" y2="229.0" stroke="#0d0d0d" stroke-width="1.0" stroke-dasharray="2.6 1.3"/>
<line x1="375.6" y1="211.5" x2="375.6" y2="229.0" stroke="#0d0d0d" stroke-width="0.9" stroke-dasharray="2.6 1.3"/>
<circle cx="365.0" cy="221.0" r="2.5" fill="#333" stroke="none" stroke-width="0" />
<line x1="380.4" y1="210.6" x2="380.4" y2="250.0" stroke="#0d0d0d" stroke-width="1.1" stroke-dasharray="2.6 1.3"/>
<line x1="384.4" y1="210.6" x2="384.4" y2="250.0" stroke="#0d0d0d" stroke-width="2.0" stroke-dasharray="2.6 1.4"/>
</g></g>
<text x="220.6" y="847.3" font-size="15.0" fill="#111" font-weight="bold" clip-path="url(#clipB)">5</text>
<line x1="48.1" y1="679.5" x2="48.1" y2="842.1" stroke="#0d0d0d" stroke-width="1.1" stroke-dasharray="4.2 0.9"/>
<line x1="48.1" y1="679.5" x2="226.2" y2="679.5" stroke="#0d0d0d" stroke-width="1.1" stroke-dasharray="4.2 0.9"/>
<line x1="51.7" y1="682.7" x2="51.7" y2="842.1" stroke="#0d0d0d" stroke-width="1.0" stroke-dasharray="4.2 0.9"/>
<line x1="51.7" y1="682.7" x2="226.2" y2="682.7" stroke="#0d0d0d" stroke-width="1.0" stroke-dasharray="4.2 0.9"/>
<line x1="53.8" y1="684.6" x2="53.8" y2="842.1" stroke="#0d0d0d" stroke-width="1.5" stroke-dasharray="4.2 0.9"/>
<line x1="53.8" y1="684.6" x2="226.2" y2="684.6" stroke="#0d0d0d" stroke-width="1.5" stroke-dasharray="4.2 0.9"/>
<line x1="57.0" y1="687.5" x2="57.0" y2="842.1" stroke="#0d0d0d" stroke-width="1.2" stroke-dasharray="4.2 0.9"/>
<line x1="57.0" y1="687.5" x2="226.2" y2="687.5" stroke="#0d0d0d" stroke-width="1.2" stroke-dasharray="4.2 0.9"/>
<line x1="225.2" y1="679.5" x2="373.9" y2="679.5" stroke="#0d0d0d" stroke-width="1.2" />
<line x1="371.1" y1="816.0" x2="371.1" y2="842.1" stroke="#0d0d0d" stroke-width="1.0" stroke-dasharray="3.4 1.2"/>
<line x1="366.1" y1="687.2" x2="366.1" y2="814.0" stroke="#0d0d0d" stroke-width="1.0" />
<line x1="228.2" y1="687.2" x2="366.5" y2="687.2" stroke="#0d0d0d" stroke-width="1.1" stroke-dasharray="3.0 2.2"/>
<line x1="261.8" y1="687.6" x2="261.8" y2="734.0" stroke="#333" stroke-width="0.81" />
<path d="M253.2,742.0 A8.6,8.6 0 0 1 261.8,733.4" fill="none" stroke="#222" stroke-width="0.6" />
<line x1="253.0" y1="741.6" x2="261.8" y2="741.6" stroke="#0d0d0d" stroke-width="1.89" />
<rect x="233.0" y="699.9" width="4.8" height="5.0" fill="#fff" stroke="#0d0d0d" stroke-width="1.7" rx="1.7"/>
<rect x="250.3" y="699.9" width="4.8" height="5.0" fill="#fff" stroke="#0d0d0d" stroke-width="1.7" rx="1.7"/>
<rect x="233.0" y="706.8" width="4.8" height="5.0" fill="#fff" stroke="#0d0d0d" stroke-width="1.7" rx="1.7"/>
<rect x="250.3" y="706.8" width="4.8" height="5.0" fill="#fff" stroke="#0d0d0d" stroke-width="1.7" rx="1.7"/>
<rect x="233.0" y="714.3" width="4.8" height="5.0" fill="#fff" stroke="#0d0d0d" stroke-width="1.7" rx="1.7"/>
<rect x="250.3" y="714.3" width="4.8" height="5.0" fill="#fff" stroke="#0d0d0d" stroke-width="1.7" rx="1.7"/>
<rect x="233.0" y="721.2" width="4.8" height="5.0" fill="#fff" stroke="#0d0d0d" stroke-width="1.7" rx="1.7"/>
<rect x="250.3" y="721.2" width="4.8" height="5.0" fill="#fff" stroke="#0d0d0d" stroke-width="1.7" rx="1.7"/>
<rect x="241.5" y="692.5" width="5.2" height="4.6" fill="#fff" stroke="#0d0d0d" stroke-width="1.7" rx="1.7"/>
<rect x="241.5" y="729.1" width="5.2" height="4.6" fill="#fff" stroke="#0d0d0d" stroke-width="1.7" rx="1.7"/>
<rect x="238.6" y="698.4" width="10.8" height="29.9" fill="#fff" stroke="#0d0d0d" stroke-width="1.4850000000000003" />
<text x="235.0" y="736.8" font-size="2.6" fill="#222" font-weight="bold" text-anchor="middle" >MEETING</text>
<rect x="237.6" y="739.6" width="11.6" height="4.0" fill="#fff" stroke="#0d0d0d" stroke-width="0.945" />
<rect x="268.8" y="689.2" width="6.2" height="6.2" fill="none" stroke="#0d0d0d" stroke-width="1.89" />
<rect x="286.9" y="689.2" width="6.2" height="6.2" fill="none" stroke="#0d0d0d" stroke-width="1.89" />
<rect x="270.4" y="690.8" width="3.0" height="3.0" fill="#f2f2f2" stroke="none" stroke-width="0" />
<rect x="288.5" y="690.8" width="3.0" height="3.0" fill="#f2f2f2" stroke="none" stroke-width="0" />
<circle cx="280.3" cy="692.0" r="3.4" fill="none" stroke="#0d0d0d" stroke-width="1.08" />
<text x="281.7" y="699.8" font-size="2.6" fill="#222" font-weight="bold" text-anchor="middle" >CAFE /</text>
<text x="281.7" y="702.4" font-size="2.6" fill="#222" font-weight="bold" text-anchor="middle" >LOUNGE</text>
<rect x="275.9" y="706.5" width="2.8" height="3.5" fill="#fff" stroke="#0d0d0d" stroke-width="1.215" />
<rect x="286.2" y="706.5" width="2.8" height="3.5" fill="#fff" stroke="#0d0d0d" stroke-width="1.215" />
<rect x="275.9" y="712.3" width="2.8" height="3.5" fill="#fff" stroke="#0d0d0d" stroke-width="1.215" />
<rect x="286.2" y="712.3" width="2.8" height="3.5" fill="#fff" stroke="#0d0d0d" stroke-width="1.215" />
<rect x="275.9" y="718.1" width="2.8" height="3.5" fill="#fff" stroke="#0d0d0d" stroke-width="1.215" />
<rect x="286.2" y="718.1" width="2.8" height="3.5" fill="#fff" stroke="#0d0d0d" stroke-width="1.215" />
<rect x="275.9" y="723.7" width="2.8" height="3.5" fill="#fff" stroke="#0d0d0d" stroke-width="1.215" />
<rect x="286.2" y="723.7" width="2.8" height="3.5" fill="#fff" stroke="#0d0d0d" stroke-width="1.215" />
<rect x="278.7" y="705.3" width="7.5" height="23.0" fill="#a2a2a2" stroke="#0d0d0d" stroke-width="1.08" />
<rect x="302.3" y="687.6" width="6.3" height="40.6" fill="#fff" stroke="#0d0d0d" stroke-width="1.08" />
<line x1="305.4" y1="687.6" x2="305.4" y2="728.2" stroke="#0d0d0d" stroke-width="1.08" />
<line x1="309.3" y1="686.5" x2="309.3" y2="728.2" stroke="#0d0d0d" stroke-width="1.7550000000000001" />
<rect x="302.4" y="688.0" width="3.0" height="12.0" fill="#999" stroke="none" stroke-width="0" />
<line x1="302.2" y1="700.0" x2="309.1" y2="700.0" stroke="#0d0d0d" stroke-width="0.81" />
<line x1="302.2" y1="706.0" x2="309.1" y2="706.0" stroke="#0d0d0d" stroke-width="0.81" />
<line x1="302.2" y1="712.5" x2="309.1" y2="712.5" stroke="#0d0d0d" stroke-width="0.81" />
<line x1="302.2" y1="719.0" x2="309.1" y2="719.0" stroke="#0d0d0d" stroke-width="0.81" />
<rect x="301.6" y="719.6" width="8.2" height="8.6" fill="#fff" stroke="#0d0d0d" stroke-width="1.4850000000000003" />
<path d="M309.9,687.6 L363.7,687.6 L363.7,728.2 L358.6,728.2 L358.6,692.2 L315.5,692.2 L315.5,728.2 L309.9,728.2 Z" fill="#fff" stroke="#0d0d0d" stroke-width="1.215" />
<line x1="316.0" y1="687.6" x2="316.0" y2="692.2" stroke="#0d0d0d" stroke-width="0.945" />
<line x1="328.6" y1="687.6" x2="328.6" y2="692.2" stroke="#0d0d0d" stroke-width="0.945" />
<line x1="343.6" y1="687.6" x2="343.6" y2="692.2" stroke="#0d0d0d" stroke-width="0.945" />
<line x1="358.6" y1="687.6" x2="358.6" y2="692.2" stroke="#0d0d0d" stroke-width="0.945" />
<line x1="309.9" y1="706.0" x2="315.5" y2="706.0" stroke="#0d0d0d" stroke-width="0.945" />
<line x1="358.6" y1="706.0" x2="363.7" y2="706.0" stroke="#0d0d0d" stroke-width="0.945" />
<circle cx="321.2" cy="695.8" r="3.0" fill="none" stroke="#0d0d0d" stroke-width="1.5" stroke-dasharray="2.3 0.85"/>
<circle cx="321.2" cy="695.8" r="2.6" fill="#0d0d0d" stroke="none" stroke-width="0" />
<rect x="320.1" y="694.6" width="2.2" height="2.1" fill="#fff" stroke="none" stroke-width="0" rx="0.7"/>
<circle cx="336.2" cy="695.8" r="3.0" fill="none" stroke="#0d0d0d" stroke-width="1.5" stroke-dasharray="2.3 0.85"/>
<circle cx="336.2" cy="695.8" r="2.6" fill="#0d0d0d" stroke="none" stroke-width="0" />
<rect x="335.1" y="694.6" width="2.2" height="2.1" fill="#fff" stroke="none" stroke-width="0" rx="0.7"/>
<circle cx="352.2" cy="695.8" r="3.0" fill="none" stroke="#0d0d0d" stroke-width="1.5" stroke-dasharray="2.3 0.85"/>
<circle cx="352.2" cy="695.8" r="2.6" fill="#0d0d0d" stroke="none" stroke-width="0" />
<rect x="351.1" y="694.6" width="2.2" height="2.1" fill="#fff" stroke="none" stroke-width="0" rx="0.7"/>
<circle cx="332.2" cy="704.8" r="2.6" fill="#fff" stroke="#0d0d0d" stroke-width="1.62" />
<circle cx="341.2" cy="704.8" r="2.6" fill="#fff" stroke="#0d0d0d" stroke-width="1.62" />
<circle cx="332.2" cy="713.8" r="2.6" fill="#fff" stroke="#0d0d0d" stroke-width="1.62" />
<circle cx="341.2" cy="713.8" r="2.6" fill="#fff" stroke="#0d0d0d" stroke-width="1.62" />
<circle cx="336.7" cy="709.3" r="3.3" fill="#fff" stroke="#0d0d0d" stroke-width="1.35" />
<rect x="316.1" y="722.5" width="13.8" height="5.8" fill="#fff" stroke="#0d0d0d" stroke-width="1.215" />
<rect x="344.2" y="722.5" width="14.4" height="5.8" fill="#fff" stroke="#0d0d0d" stroke-width="1.215" />
<circle cx="321.2" cy="719.6" r="3.0" fill="none" stroke="#0d0d0d" stroke-width="1.5" stroke-dasharray="2.3 0.85"/>
<circle cx="321.2" cy="719.6" r="2.6" fill="#0d0d0d" stroke="none" stroke-width="0" />
<rect x="320.1" y="718.5" width="2.2" height="2.1" fill="#fff" stroke="none" stroke-width="0" rx="0.7"/>
<circle cx="352.2" cy="719.6" r="3.0" fill="none" stroke="#0d0d0d" stroke-width="1.5" stroke-dasharray="2.3 0.85"/>
<circle cx="352.2" cy="719.6" r="2.6" fill="#0d0d0d" stroke="none" stroke-width="0" />
<rect x="351.1" y="718.5" width="2.2" height="2.1" fill="#fff" stroke="none" stroke-width="0" rx="0.7"/>
<rect x="323.0" y="744.4" width="40.1" height="13.6" fill="#fff" stroke="#0d0d0d" stroke-width="1.35" />
<line x1="336.7" y1="744.4" x2="336.7" y2="758.0" stroke="#0d0d0d" stroke-width="1.215" />
<line x1="349.9" y1="744.4" x2="349.9" y2="758.0" stroke="#0d0d0d" stroke-width="1.215" />
<rect x="323.4" y="747.0" width="12.6" height="4.2" fill="#111" stroke="none" stroke-width="0" />
<line x1="323.0" y1="751.2" x2="363.1" y2="751.2" stroke="#0d0d0d" stroke-width="1.08" />
<circle cx="343.1" cy="740.8" r="3.0" fill="none" stroke="#0d0d0d" stroke-width="1.5" stroke-dasharray="2.3 0.85"/>
<circle cx="343.1" cy="740.8" r="2.6" fill="#0d0d0d" stroke="none" stroke-width="0" />
<rect x="342.0" y="739.6" width="2.2" height="2.1" fill="#fff" stroke="none" stroke-width="0" rx="0.7"/>
<circle cx="356.8" cy="740.8" r="3.0" fill="none" stroke="#0d0d0d" stroke-width="1.5" stroke-dasharray="2.3 0.85"/>
<circle cx="356.8" cy="740.8" r="2.6" fill="#0d0d0d" stroke="none" stroke-width="0" />
<rect x="355.7" y="739.6" width="2.2" height="2.1" fill="#fff" stroke="none" stroke-width="0" rx="0.7"/>
<circle cx="329.3" cy="761.7" r="3.0" fill="none" stroke="#0d0d0d" stroke-width="1.5" stroke-dasharray="2.3 0.85"/>
<circle cx="329.3" cy="761.7" r="2.6" fill="#0d0d0d" stroke="none" stroke-width="0" />
<rect x="328.2" y="760.6" width="2.2" height="2.1" fill="#fff" stroke="none" stroke-width="0" rx="0.7"/>
<circle cx="343.1" cy="761.7" r="3.0" fill="none" stroke="#0d0d0d" stroke-width="1.5" stroke-dasharray="2.3 0.85"/>
<circle cx="343.1" cy="761.7" r="2.6" fill="#0d0d0d" stroke="none" stroke-width="0" />
<rect x="342.0" y="760.6" width="2.2" height="2.1" fill="#fff" stroke="none" stroke-width="0" rx="0.7"/>
<circle cx="356.8" cy="761.7" r="3.0" fill="none" stroke="#0d0d0d" stroke-width="1.5" stroke-dasharray="2.3 0.85"/>
<circle cx="356.8" cy="761.7" r="2.6" fill="#0d0d0d" stroke="none" stroke-width="0" />
<rect x="355.7" y="760.6" width="2.2" height="2.1" fill="#fff" stroke="none" stroke-width="0" rx="0.7"/>
<rect x="324.3" y="775.6" width="7.5" height="32.7" fill="#fff" stroke="#0d0d0d" stroke-width="1.35" />
<rect x="344.3" y="775.6" width="7.5" height="32.7" fill="#fff" stroke="#0d0d0d" stroke-width="1.35" />
<rect x="324.3" y="787.4" width="40.0" height="9.0" fill="#fff" stroke="#0d0d0d" stroke-width="1.215" />
<line x1="324.3" y1="789.8" x2="364.3" y2="789.8" stroke="#0d0d0d" stroke-width="0.945" />
<line x1="324.3" y1="792.0" x2="364.3" y2="792.0" stroke="#0d0d0d" stroke-width="0.945" />
<line x1="324.3" y1="794.2" x2="364.3" y2="794.2" stroke="#0d0d0d" stroke-width="0.945" />
<line x1="338.2" y1="787.4" x2="338.2" y2="796.4" stroke="#0d0d0d" stroke-width="1.35" />
<circle cx="334.8" cy="780.8" r="3.2" fill="#111" stroke="none" stroke-width="0" />
<circle cx="334.8" cy="801.4" r="3.2" fill="#111" stroke="none" stroke-width="0" />
<circle cx="354.8" cy="780.8" r="3.2" fill="#111" stroke="none" stroke-width="0" />
<circle cx="354.8" cy="801.4" r="3.2" fill="#111" stroke="none" stroke-width="0" />
<rect x="286.2" y="745.0" width="19.0" height="7.6" fill="#fff" stroke="#0d0d0d" stroke-width="1.08" rx="1.2"/>
<rect x="287.6" y="746.6" width="16.4" height="5.0" fill="none" stroke="#555" stroke-width="0.5" />
<line x1="287.0" y1="745.0" x2="287.0" y2="764.0" stroke="#0d0d0d" stroke-width="1.08" />
<circle cx="296.0" cy="756.2" r="3.0" fill="none" stroke="#0d0d0d" stroke-width="1.5" stroke-dasharray="2.3 0.85"/>
<circle cx="296.0" cy="756.2" r="2.6" fill="#0d0d0d" stroke="none" stroke-width="0" />
<rect x="294.9" y="755.1" width="2.2" height="2.1" fill="#fff" stroke="none" stroke-width="0" rx="0.7"/>
<text x="296.0" y="761.8" font-size="2.2" fill="#222" font-weight="bold" text-anchor="middle" >COPY</text>
<path d="M285.6,786.2 L303.0,786.2 L303.0,769.0" fill="none" stroke="#0d0d0d" stroke-width="0.945" />
<text x="295.0" y="778.6" font-size="2.6" fill="#222" font-weight="bold" text-anchor="middle" >JAN.</text>
<text x="295.0" y="781.0" font-size="2.6" fill="#222" font-weight="bold" text-anchor="middle" >CL.</text>
<rect x="301.0" y="768.6" width="3.6" height="3.6" fill="#555" stroke="#0d0d0d" stroke-width="0.675" />
<ellipse cx="301.2" cy="783.2" rx="1.7" ry="1.2" fill="#fff" stroke="#111" stroke-width="0.5"/>
<path d="M294.8,768.0 A8.8,8.8 0 0 1 286.0,776.8" fill="none" stroke="#222" stroke-width="0.6" />
<path d="M269.4,756.0 A9.0,9.0 0 0 1 278.4,765.0" fill="none" stroke="#222" stroke-width="0.6" />
<circle cx="294.2" cy="796.6" r="4.2" fill="#fff" stroke="#0d0d0d" stroke-width="1.215" />
<path d="M283.8,791.6 A5.2,5.2 0 0 1 291.6,787.1" fill="none" stroke="#222" stroke-width="0.6" />
<text x="300.8" y="801.4" font-size="2.2" fill="#222" font-weight="bold" text-anchor="middle" >RECEP.</text>
<text x="300.8" y="803.6" font-size="2.2" fill="#222" font-weight="bold" text-anchor="middle" >AREA</text>
<circle cx="296.0" cy="809.4" r="3.0" fill="none" stroke="#0d0d0d" stroke-width="1.5" stroke-dasharray="2.3 0.85"/>
<circle cx="296.0" cy="809.4" r="2.6" fill="#0d0d0d" stroke="none" stroke-width="0" />
<rect x="294.9" y="808.2" width="2.2" height="2.1" fill="#fff" stroke="none" stroke-width="0" rx="0.7"/>
<rect x="291.0" y="811.6" width="11.2" height="4.0" fill="#fff" stroke="#0d0d0d" stroke-width="1.08" />
<line x1="307.0" y1="798.0" x2="307.0" y2="814.0" stroke="#333" stroke-width="0.81" />
<text transform="translate(320.0,806.5) rotate(-90)" font-size="13.4" fill="#3d4650" textLength="52.8" lengthAdjust="spacingAndGlyphs">SUITE 560</text>
<path d="M44.9,684.6 L54.5,675.9 L64.9,675.9 L64.9,687.8 L56.4,687.8 L56.4,694.6 L44.9,694.6 Z" fill="#0b0b0b" stroke="none" stroke-width="0" />
<rect x="153.3" y="673.2" width="12.9" height="13.2" fill="#0b0b0b" stroke="none" stroke-width="0" />
<rect x="255.3" y="673.2" width="12.7" height="12.7" fill="#0b0b0b" stroke="none" stroke-width="0" />
<path d="M356.4,675.9 L366.0,675.9 L375.6,684.6 L375.6,693.9 L365.4,693.9 L365.4,687.0 L356.4,687.0 Z" fill="#0b0b0b" stroke="none" stroke-width="0" />
<rect x="42.9" y="782.8" width="13.2" height="13.7" fill="#0b0b0b" stroke="none" stroke-width="0" />
<rect x="365.6" y="782.8" width="11.3" height="13.7" fill="#0b0b0b" stroke="none" stroke-width="0" />
<line x1="158.3" y1="686.4" x2="162.8" y2="679.2" stroke="#cfcfcf" stroke-width="0.55" />
<line x1="161.3" y1="686.4" x2="165.8" y2="679.2" stroke="#cfcfcf" stroke-width="0.55" />
<line x1="164.3" y1="686.4" x2="168.8" y2="679.2" stroke="#cfcfcf" stroke-width="0.55" />
<line x1="47.9" y1="796.0" x2="52.4" y2="788.8" stroke="#cfcfcf" stroke-width="0.55" />
<line x1="50.9" y1="796.0" x2="55.4" y2="788.8" stroke="#cfcfcf" stroke-width="0.55" />
<line x1="53.9" y1="796.0" x2="58.4" y2="788.8" stroke="#cfcfcf" stroke-width="0.55" />
<path d="M226.2,684.2 L369.5,684.2 L369.5,816.0 L285.3,816.0 L285.3,788.8 L305.6,788.8 L305.6,765.5 L268.0,765.5 L268.0,745.2 L226.2,745.2 Z" fill="none" stroke="#1d8b2f" stroke-width="3.7" stroke-linejoin="miter"/>
<path d="M226.2,684.2 L369.5,684.2 L369.5,816.0 L285.3,816.0 L285.3,788.8 L305.6,788.8 L305.6,765.5 L268.0,765.5 L268.0,745.2 L226.2,745.2 Z" fill="none" stroke="#0c5419" stroke-width="1.0" stroke-dasharray="3.2 1.6" opacity="0.7"/>
<g opacity="0.62">
<path d="M44.9,684.6 L54.5,675.9 L64.9,675.9 L64.9,687.8 L56.4,687.8 L56.4,694.6 L44.9,694.6 Z" fill="#0b0b0b" stroke="none" stroke-width="0" />
<rect x="153.3" y="673.2" width="12.9" height="13.2" fill="#0b0b0b" stroke="none" stroke-width="0" />
<rect x="255.3" y="673.2" width="12.7" height="12.7" fill="#0b0b0b" stroke="none" stroke-width="0" />
<path d="M356.4,675.9 L366.0,675.9 L375.6,684.6 L375.6,693.9 L365.4,693.9 L365.4,687.0 L356.4,687.0 Z" fill="#0b0b0b" stroke="none" stroke-width="0" />
<rect x="42.9" y="782.8" width="13.2" height="13.7" fill="#0b0b0b" stroke="none" stroke-width="0" />
<rect x="365.6" y="782.8" width="11.3" height="13.7" fill="#0b0b0b" stroke="none" stroke-width="0" />
<line x1="158.3" y1="686.4" x2="162.8" y2="679.2" stroke="#cfcfcf" stroke-width="0.55" />
<line x1="161.3" y1="686.4" x2="165.8" y2="679.2" stroke="#cfcfcf" stroke-width="0.55" />
<line x1="164.3" y1="686.4" x2="168.8" y2="679.2" stroke="#cfcfcf" stroke-width="0.55" />
<line x1="47.9" y1="796.0" x2="52.4" y2="788.8" stroke="#cfcfcf" stroke-width="0.55" />
<line x1="50.9" y1="796.0" x2="55.4" y2="788.8" stroke="#cfcfcf" stroke-width="0.55" />
<line x1="53.9" y1="796.0" x2="58.4" y2="788.8" stroke="#cfcfcf" stroke-width="0.55" />
</g>
<text x="431.2" y="72.9" font-size="17.3" fill="#2b8bc6" textLength="80.2" lengthAdjust="spacingAndGlyphs" >SUITE 560</text>
<text x="636.4" y="73.2" font-size="17.0" fill="#2b8bc6" textLength="66.5" lengthAdjust="spacingAndGlyphs" >2,358 SF*</text>
<line x1="430.5" y1="87.4" x2="703.7" y2="87.4" stroke="#4aa0d6" stroke-width="0.95" />
<text x="431.2" y="114.3" font-size="16.6" fill="#1a7fc2" textLength="127" lengthAdjust="spacingAndGlyphs" stroke="#1a7fc2" stroke-width="0.55" >EXISTING LAYOUT</text>
<circle cx="433.7" cy="132.9" r="2.1" fill="#1a7fc2" stroke="none" stroke-width="0" />
<text x="446.2" y="137.2" font-size="12.8" fill="#565656" textLength="54.8" lengthAdjust="spacingAndGlyphs" >Boardroom</text>
<circle cx="433.7" cy="148.6" r="2.1" fill="#1a7fc2" stroke="none" stroke-width="0" />
<text x="446.2" y="152.9" font-size="12.8" fill="#565656" textLength="79.2" lengthAdjust="spacingAndGlyphs" >1 Exterior Office</text>
<circle cx="433.7" cy="164.5" r="2.1" fill="#1a7fc2" stroke="none" stroke-width="0" />
<text x="446.2" y="168.8" font-size="12.8" fill="#565656" textLength="126.2" lengthAdjust="spacingAndGlyphs" >Room for 12 Workstations</text>
<circle cx="433.7" cy="180.5" r="2.1" fill="#1a7fc2" stroke="none" stroke-width="0" />
<text x="446.2" y="184.8" font-size="12.8" fill="#565656" textLength="54.3" lengthAdjust="spacingAndGlyphs" >Kitchenette</text>
<circle cx="433.7" cy="196.4" r="2.1" fill="#1a7fc2" stroke="none" stroke-width="0" />
<text x="446.2" y="200.7" font-size="12.8" fill="#565656" textLength="81.7" lengthAdjust="spacingAndGlyphs" >Filing/Copy Area</text>
<circle cx="433.7" cy="212.4" r="2.1" fill="#1a7fc2" stroke="none" stroke-width="0" />
<text x="446.2" y="216.7" font-size="12.8" fill="#565656" textLength="48.6" lengthAdjust="spacingAndGlyphs" >Reception</text>
<text x="431.2" y="264.9" font-size="17.3" fill="#2b8bc6" textLength="79.2" lengthAdjust="spacingAndGlyphs" >SUITE 570</text>
<text x="636.4" y="265.1" font-size="17.0" fill="#2b8bc6" textLength="66.5" lengthAdjust="spacingAndGlyphs" >3,422 SF*</text>
<line x1="430.5" y1="279.4" x2="703.7" y2="279.4" stroke="#4aa0d6" stroke-width="0.95" />
<text x="431.2" y="306.1" font-size="16.6" fill="#1a7fc2" textLength="264.4" lengthAdjust="spacingAndGlyphs" stroke="#1a7fc2" stroke-width="0.55" >EXISTING LAYOUT (WELL-IMPROVED)</text>
<circle cx="433.7" cy="324.6" r="2.1" fill="#1a7fc2" stroke="none" stroke-width="0" />
<text x="446.2" y="328.9" font-size="12.8" fill="#565656" textLength="86.6" lengthAdjust="spacingAndGlyphs" >8 Exterior Offices</text>
<circle cx="433.7" cy="340.8" r="2.1" fill="#1a7fc2" stroke="none" stroke-width="0" />
<text x="446.2" y="345.1" font-size="12.8" fill="#565656" textLength="82.9" lengthAdjust="spacingAndGlyphs" >Small Open Area</text>
<circle cx="433.7" cy="357.0" r="2.1" fill="#1a7fc2" stroke="none" stroke-width="0" />
<text x="446.2" y="361.3" font-size="12.8" fill="#565656" textLength="54.8" lengthAdjust="spacingAndGlyphs" >Boardroom</text>
<circle cx="433.7" cy="373.2" r="2.1" fill="#1a7fc2" stroke="none" stroke-width="0" />
<text x="446.2" y="377.5" font-size="12.8" fill="#565656" textLength="70.2" lengthAdjust="spacingAndGlyphs" >Meeting Room</text>
<circle cx="433.7" cy="389.4" r="2.1" fill="#1a7fc2" stroke="none" stroke-width="0" />
<text x="446.2" y="393.7" font-size="12.8" fill="#565656" textLength="36.1" lengthAdjust="spacingAndGlyphs" >Kitchen</text>
<circle cx="433.7" cy="405.6" r="2.1" fill="#1a7fc2" stroke="none" stroke-width="0" />
<text x="446.2" y="409.9" font-size="12.8" fill="#565656" textLength="48.6" lengthAdjust="spacingAndGlyphs" >Reception</text>
<text x="431.2" y="448.1" font-size="13.2" fill="#1a7fc2" font-weight="bold" textLength="162.4" lengthAdjust="spacingAndGlyphs" >*CONTIGUOUS TO 5,780 SF</text>
<text x="431.2" y="506.9" font-size="17.4" fill="#3fa659" textLength="65.3" lengthAdjust="spacingAndGlyphs" stroke="#3fa659" stroke-width="0.4" >Option A</text>
<text x="643.4" y="504.3" font-size="16.5" fill="#4aa862" textLength="59.5" lengthAdjust="spacingAndGlyphs" >2,358 SF</text>
<line x1="430.5" y1="518.6" x2="703.7" y2="518.6" stroke="#3f9f58" stroke-width="1.1" />
<text x="431.2" y="544.8" font-size="16.4" fill="#3fa659" textLength="156.9" lengthAdjust="spacingAndGlyphs" stroke="#3fa659" stroke-width="0.5" >CONCEPTUAL LAYOUT</text>
<circle cx="433.7" cy="566.6" r="1.8" fill="#3fa659" stroke="none" stroke-width="0" />
<text x="446.2" y="570.9" font-size="12.8" fill="#565656" textLength="182.6" lengthAdjust="spacingAndGlyphs" >3 Exterior Offices with bench seating</text>
<circle cx="433.7" cy="582.3" r="1.8" fill="#3fa659" stroke="none" stroke-width="0" />
<text x="446.2" y="586.6" font-size="12.8" fill="#565656" textLength="171.9" lengthAdjust="spacingAndGlyphs" >1 Interior Office with bench seating</text>
<circle cx="433.7" cy="598.3" r="1.8" fill="#3fa659" stroke="none" stroke-width="0" />
<text x="446.2" y="602.6" font-size="12.8" fill="#565656" textLength="70.2" lengthAdjust="spacingAndGlyphs" >Breakout Area</text>
<circle cx="433.7" cy="614.2" r="1.8" fill="#3fa659" stroke="none" stroke-width="0" />
<text x="446.2" y="618.5" font-size="12.8" fill="#565656" textLength="70.2" lengthAdjust="spacingAndGlyphs" >Meeting Room</text>
<circle cx="433.7" cy="630.2" r="1.8" fill="#3fa659" stroke="none" stroke-width="0" />
<text x="446.2" y="634.5" font-size="12.8" fill="#565656" textLength="103.8" lengthAdjust="spacingAndGlyphs" >Kitchen/Staff Lounge</text>
<text x="431.2" y="720.8" font-size="17.4" fill="#3fa659" textLength="64.8" lengthAdjust="spacingAndGlyphs" stroke="#3fa659" stroke-width="0.4" >Option B</text>
<text x="643.4" y="721.0" font-size="16.5" fill="#4aa862" textLength="59.5" lengthAdjust="spacingAndGlyphs" >2,358 SF</text>
<line x1="430.5" y1="734.2" x2="703.7" y2="734.2" stroke="#3f9f58" stroke-width="1.1" />
<text x="431.2" y="760.6" font-size="16.4" fill="#3fa659" textLength="156.9" lengthAdjust="spacingAndGlyphs" stroke="#3fa659" stroke-width="0.5" >CONCEPTUAL LAYOUT</text>
<circle cx="433.7" cy="779.7" r="1.8" fill="#3fa659" stroke="none" stroke-width="0" />
<text x="446.2" y="784.0" font-size="12.8" fill="#565656" textLength="77.2" lengthAdjust="spacingAndGlyphs" >14 Workstations</text>
<circle cx="433.7" cy="796.7" r="1.8" fill="#3fa659" stroke="none" stroke-width="0" />
<text x="446.2" y="801.0" font-size="12.8" fill="#565656" textLength="175.7" lengthAdjust="spacingAndGlyphs" >2 Interior Offices / Breakout Rooms</text>
<circle cx="433.7" cy="812.4" r="1.8" fill="#3fa659" stroke="none" stroke-width="0" />
<text x="446.2" y="816.7" font-size="12.8" fill="#565656" textLength="70.2" lengthAdjust="spacingAndGlyphs" >Meeting Room</text>
<circle cx="433.7" cy="828.3" r="1.8" fill="#3fa659" stroke="none" stroke-width="0" />
<text x="446.2" y="832.6" font-size="12.8" fill="#565656" textLength="103.8" lengthAdjust="spacingAndGlyphs" >Kitchen/Staff Lounge</text>
</svg></body></html>
